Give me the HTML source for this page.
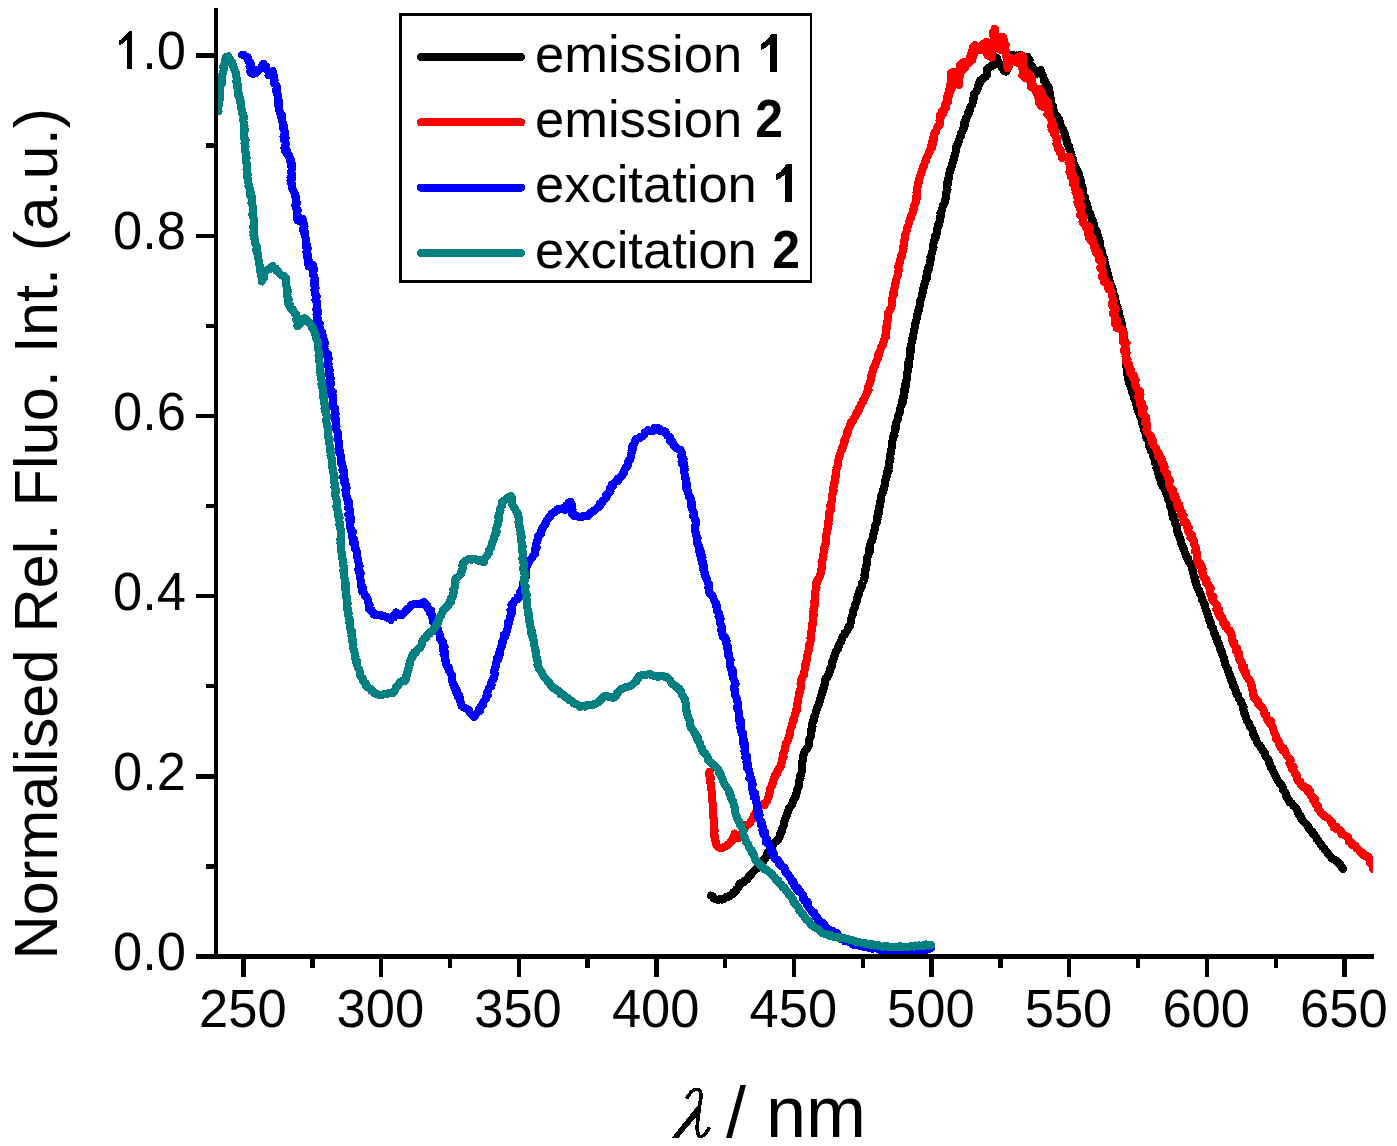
<!DOCTYPE html>
<html><head><meta charset="utf-8"><style>
html,body{margin:0;padding:0;background:#fff;}
svg{display:block;}
text{font-family:"Liberation Sans",sans-serif;}
</style></head><body>
<svg width="1397" height="1146" viewBox="0 0 1397 1146" shape-rendering="crispEdges">
<rect width="1397" height="1146" fill="#fff"/>
<defs><clipPath id="pc"><rect x="0" y="0" width="1373" height="1146"/></clipPath></defs>
<g fill="none" stroke-width="8.1" stroke-linejoin="round" stroke-linecap="round" clip-path="url(#pc)">
<polyline stroke="#000" points="710.9,895.6 712.6,896.3 713.4,898.0 714.9,899.0 716.7,899.6 718.2,899.6 720.0,899.4 721.8,899.5 723.5,899.4 725.1,897.7 727.0,896.7 729.3,896.7 730.5,895.2 732.1,894.5 732.9,892.7 734.7,892.0 735.9,890.9 736.3,889.2 737.9,888.2 738.8,886.8 738.9,884.9 739.8,883.5 741.7,883.0 743.3,882.6 744.4,881.2 745.6,880.1 747.2,879.5 747.8,877.9 749.0,876.6 750.3,875.4 751.4,874.0 752.6,872.4 754.0,871.0 755.4,869.6 757.0,868.4 758.2,866.8 759.4,865.2 761.5,864.5 762.6,862.8 763.6,861.1 764.0,859.1 765.8,857.8 766.5,856.0 766.6,854.2 767.7,852.9 768.9,851.8 769.8,850.4 770.9,849.2 771.2,847.5 772.5,846.3 773.1,844.8 773.6,843.2 775.3,842.0 776.9,840.8 778.3,839.4 779.4,837.7 780.2,836.0 780.2,834.0 781.1,832.3 782.4,830.8 782.4,829.1 782.5,827.4 783.4,826.0 784.0,824.4 784.4,822.8 784.4,821.1 784.9,819.6 785.4,818.0 786.4,816.4 786.9,814.6 787.5,812.8 788.3,811.2 788.6,809.3 789.4,807.6 791.0,806.3 792.1,804.9 792.5,803.0 793.1,801.3 793.6,799.5 794.6,798.1 795.7,796.6 796.1,794.9 796.4,793.2 797.4,791.7 797.3,789.8 798.0,788.2 798.8,786.7 798.7,784.9 798.9,783.2 799.0,781.5 799.7,779.9 800.5,778.4 799.7,776.5 801.0,775.0 801.3,773.3 801.8,771.7 801.8,770.0 802.1,768.3 802.0,766.6 802.2,765.0 802.3,763.3 802.1,761.5 803.3,760.0 803.1,758.3 802.9,756.6 803.5,755.0 803.7,753.3 804.5,751.7 805.5,750.3 806.7,748.9 807.7,747.5 808.7,746.1 808.8,744.4 808.6,742.6 809.1,741.0 809.3,739.4 810.1,737.9 810.7,736.3 810.9,734.6 811.2,733.0 811.5,731.4 811.2,729.6 812.3,728.1 812.5,726.4 812.2,724.6 812.5,723.0 812.9,721.4 814.2,719.9 814.0,718.2 814.2,716.5 815.4,715.1 815.5,713.5 815.7,711.9 816.3,710.4 817.3,709.0 817.4,707.3 818.0,705.8 819.0,704.5 819.2,702.9 819.6,701.3 820.3,699.8 820.3,698.1 821.1,696.6 821.6,694.9 821.8,693.2 822.1,691.5 823.5,690.1 823.5,688.3 823.6,686.6 824.5,685.0 825.2,683.4 824.7,681.5 825.1,679.9 826.1,678.2 827.6,676.9 827.8,674.9 829.2,673.6 829.7,671.9 830.1,670.2 830.2,668.4 831.6,667.1 831.9,665.3 832.1,663.6 832.3,661.8 833.3,660.3 833.5,658.6 834.3,657.0 834.5,655.2 835.5,653.8 835.5,652.1 836.4,650.7 837.8,649.5 838.3,647.9 838.3,646.1 839.5,644.9 839.6,643.1 840.9,641.9 841.5,640.4 841.9,638.8 842.6,637.2 843.2,635.6 844.9,634.7 844.8,632.8 846.5,631.8 847.4,630.4 847.8,628.7 848.2,627.1 849.8,626.0 850.4,624.4 850.6,622.7 850.8,621.1 851.1,619.4 851.5,617.8 851.8,616.2 852.8,614.8 853.0,613.1 853.2,611.5 853.5,609.9 854.6,608.5 854.7,606.7 855.3,605.2 855.6,603.5 856.7,602.1 857.2,600.5 856.6,598.6 857.3,597.1 857.9,595.5 859.1,594.2 859.4,592.5 859.5,590.8 859.9,589.1 861.0,587.8 861.7,586.2 862.4,584.7 862.3,582.9 863.5,581.5 863.8,579.9 864.2,578.2 865.0,576.7 864.4,574.9 865.2,573.4 864.7,571.7 865.1,570.1 866.2,568.6 865.6,566.9 866.5,565.4 866.6,563.7 867.1,562.2 866.8,560.5 867.0,558.9 867.4,557.2 868.4,555.8 868.5,554.1 869.4,552.5 869.7,550.9 869.2,549.0 870.1,547.5 870.0,545.8 870.3,544.1 870.8,542.5 872.1,541.1 872.4,539.5 872.9,537.9 872.7,536.1 873.5,534.6 874.1,533.0 874.0,531.2 874.6,529.7 874.6,527.9 874.9,526.3 875.5,524.7 876.6,523.3 876.7,521.5 877.5,520.0 877.3,518.3 877.4,516.6 878.3,515.1 878.7,513.5 878.0,511.7 879.1,510.2 878.8,508.4 879.1,506.8 880.3,505.3 879.7,503.5 880.2,501.9 881.4,500.5 881.1,498.7 881.0,497.0 881.4,495.4 881.9,493.8 882.9,492.3 882.6,490.5 883.9,489.1 883.7,487.3 884.8,485.8 885.2,484.2 884.9,482.4 885.2,480.7 885.9,479.2 885.9,477.4 886.9,475.9 886.6,474.1 887.0,472.5 888.6,471.1 888.0,469.3 888.6,467.8 888.7,466.1 888.7,464.5 888.7,462.8 889.9,461.3 890.2,459.7 890.5,458.1 889.7,456.3 890.1,454.7 890.8,453.1 891.4,451.6 891.2,449.9 891.6,448.3 891.8,446.6 891.6,444.9 892.3,443.4 892.4,441.7 892.6,440.0 892.7,438.4 893.3,436.8 894.5,435.3 894.2,433.6 894.7,432.0 895.0,430.4 895.7,428.8 895.4,427.1 895.6,425.4 896.0,423.8 896.3,422.2 897.4,420.7 898.0,419.1 897.8,417.2 898.3,415.6 899.1,414.0 899.6,412.4 900.2,410.8 900.3,409.0 900.5,407.3 901.3,405.8 901.6,404.1 902.7,402.6 902.4,400.9 902.6,399.3 903.6,397.7 903.4,396.0 904.3,394.5 904.2,392.8 904.9,391.3 904.4,389.5 905.1,388.0 905.7,386.4 905.1,384.6 906.4,383.2 905.8,381.4 906.7,379.9 907.3,378.3 907.3,376.6 907.0,374.9 907.0,373.2 907.7,371.7 908.4,370.1 907.9,368.4 908.8,366.8 908.1,365.1 909.2,363.6 908.4,361.8 908.9,360.3 909.8,358.7 909.9,357.1 910.2,355.5 910.4,353.8 910.5,352.2 910.6,350.5 910.2,348.8 910.7,347.2 910.6,345.6 911.5,344.0 911.7,342.5 911.6,340.8 911.7,339.2 913.1,337.8 913.3,336.2 913.3,334.6 913.6,333.0 914.4,331.5 914.2,329.8 914.5,328.3 914.8,326.7 915.0,325.1 915.1,323.4 916.2,322.0 916.3,320.3 916.8,318.7 916.6,317.0 917.4,315.4 917.5,313.7 917.9,312.1 918.4,310.5 919.4,309.0 919.3,307.2 919.7,305.6 920.3,304.0 920.2,302.3 920.3,300.6 921.2,299.1 921.5,297.5 922.0,295.9 922.0,294.2 922.7,292.6 923.2,291.0 923.0,289.3 923.7,287.7 924.1,286.1 924.2,284.4 924.9,282.8 925.5,281.2 926.3,279.7 926.7,278.2 926.3,276.4 927.2,274.9 926.9,273.2 927.3,271.6 928.2,270.2 929.0,268.7 928.5,266.9 929.5,265.4 930.0,263.8 929.6,262.0 930.3,260.5 930.8,258.9 930.5,257.1 931.2,255.6 931.6,254.0 931.8,252.3 932.5,250.7 933.0,249.1 933.5,247.5 933.4,245.8 933.4,244.0 933.9,242.4 934.3,240.8 935.1,239.2 935.7,237.7 935.3,235.8 936.4,234.4 936.9,232.8 936.8,231.0 937.4,229.5 937.4,227.7 938.5,226.3 938.1,224.5 939.5,223.1 939.6,221.4 939.7,219.7 939.6,218.0 940.6,216.5 941.0,214.9 940.4,213.1 941.4,211.6 941.8,210.0 942.2,208.4 942.8,206.8 943.1,205.1 944.2,203.7 944.8,202.1 944.7,200.3 945.8,198.8 945.9,197.1 945.8,195.4 946.2,193.8 946.2,192.1 947.3,190.6 947.5,189.0 946.7,187.2 947.5,185.7 947.5,184.0 947.3,182.3 947.9,180.7 948.2,179.1 949.1,177.7 948.6,175.9 949.1,174.3 949.8,172.8 949.6,171.1 950.6,169.6 951.1,168.1 951.9,166.6 951.8,164.8 952.4,163.2 953.2,161.8 953.4,160.1 954.3,158.6 954.2,156.7 955.0,155.0 955.4,153.2 955.8,151.3 956.3,149.5 956.1,147.6 956.6,146.0 957.7,144.6 958.3,143.0 958.7,141.3 959.2,139.7 959.7,138.1 960.2,136.4 961.4,135.0 961.1,133.1 962.3,131.6 962.6,129.8 963.9,128.4 964.0,126.5 964.9,125.0 963.8,122.8 965.2,121.4 966.0,119.9 966.2,118.1 967.2,116.7 967.7,115.0 968.7,113.6 968.4,111.6 969.7,110.4 970.2,108.8 970.4,107.2 971.1,105.7 972.3,104.4 972.6,102.7 972.7,101.1 973.5,99.6 973.5,97.8 973.7,96.1 973.9,94.4 975.0,93.0 976.1,91.6 977.2,90.1 977.6,88.5 977.6,86.7 979.0,85.4 978.8,83.6 980.2,82.4 980.2,80.5 981.5,79.3 983.1,79.3 984.3,77.4 985.9,76.5 986.7,75.4 987.0,73.5 987.0,71.6 986.7,69.7 987.9,68.1 989.7,67.0 991.3,65.9 993.5,65.7 994.0,63.8 995.1,62.5 996.2,61.3 996.7,59.7 997.1,58.1 997.3,59.9 998.2,61.5 998.8,63.2 999.9,64.7 1001.3,66.0 1001.9,67.7 1002.9,69.2 1004.1,70.8 1005.8,71.6 1007.4,69.9 1007.9,68.3 1008.6,66.8 1008.9,65.1 1009.1,63.4 1009.6,61.8 1011.2,60.5 1012.3,58.9 1012.5,56.9 1012.6,54.8 1014.8,56.0 1016.6,55.5 1018.3,55.7 1020.1,55.1 1021.8,56.3 1023.5,57.0 1025.4,56.7 1027.2,56.8 1027.7,58.7 1029.6,59.7 1029.4,61.6 1029.4,63.5 1030.6,64.8 1031.9,66.0 1032.1,67.8 1033.0,69.2 1034.9,70.0 1036.3,71.4 1036.7,73.6 1039.0,71.7 1040.8,70.3 1041.2,73.1 1042.4,74.7 1043.3,76.4 1043.6,78.3 1043.8,80.2 1045.6,81.2 1045.5,83.1 1046.2,84.6 1046.9,86.1 1048.6,87.0 1048.3,88.9 1049.4,90.4 1049.1,92.2 1050.2,93.7 1049.3,95.6 1049.5,97.3 1050.8,98.7 1051.4,100.3 1050.2,102.2 1051.0,103.7 1051.1,105.3 1053.0,106.6 1051.6,108.6 1052.5,110.0 1053.9,111.2 1054.5,112.8 1054.8,114.5 1055.6,115.9 1057.5,116.7 1057.6,118.6 1059.2,119.5 1058.6,121.8 1060.4,122.6 1060.1,124.6 1061.0,126.1 1061.8,127.6 1063.0,129.0 1063.1,130.8 1064.1,132.2 1064.7,133.8 1064.6,135.7 1065.6,137.1 1065.7,138.9 1066.9,140.3 1066.8,142.0 1067.3,143.6 1068.3,145.0 1069.0,146.5 1069.1,148.1 1069.5,149.7 1070.5,151.1 1070.8,152.7 1071.5,154.2 1071.3,156.0 1071.5,157.6 1072.7,158.9 1073.4,160.4 1073.3,162.2 1073.8,163.8 1074.3,165.4 1075.3,166.7 1076.2,168.1 1076.3,169.9 1077.7,171.1 1077.7,172.8 1079.0,174.1 1079.3,175.8 1079.6,177.4 1080.1,178.9 1080.8,180.4 1081.1,182.0 1080.8,183.7 1081.6,185.2 1081.9,186.8 1082.7,188.2 1082.5,189.9 1083.3,191.4 1083.4,193.0 1083.4,194.7 1083.7,196.2 1085.3,197.5 1084.9,199.3 1085.3,200.9 1086.4,202.3 1086.9,203.8 1087.1,205.5 1087.2,207.1 1088.3,208.5 1088.2,210.2 1088.8,211.7 1090.0,213.1 1089.6,214.9 1091.2,216.1 1091.6,217.8 1091.6,219.6 1092.8,221.0 1093.1,222.7 1093.9,224.2 1094.1,226.0 1094.3,227.8 1094.8,229.4 1096.4,230.7 1096.9,232.3 1096.6,234.2 1098.0,235.6 1098.2,237.2 1098.8,238.8 1099.3,240.4 1099.8,242.0 1099.6,243.8 1099.9,245.4 1100.4,247.0 1100.7,248.7 1101.4,250.2 1102.1,251.8 1102.2,253.4 1102.2,255.0 1103.0,256.5 1103.9,257.9 1104.5,259.4 1103.8,261.3 1104.6,262.7 1105.3,264.2 1105.4,265.8 1105.9,267.4 1106.3,268.9 1107.2,270.3 1107.3,272.0 1107.7,273.5 1108.4,275.0 1108.1,276.8 1109.1,278.2 1109.3,279.9 1109.8,281.4 1110.2,283.0 1110.7,284.6 1111.2,286.1 1112.2,287.5 1111.9,289.3 1113.3,290.6 1112.9,292.4 1113.4,294.0 1113.8,295.5 1115.1,296.8 1115.4,298.4 1115.0,300.2 1115.8,301.6 1116.3,303.1 1116.0,304.9 1117.5,306.1 1117.3,307.8 1117.8,309.4 1118.5,310.8 1118.6,312.5 1118.6,314.1 1118.8,315.7 1120.2,317.0 1120.0,318.8 1120.9,320.2 1120.5,322.0 1121.7,323.3 1122.1,324.9 1122.1,326.5 1122.1,328.2 1122.9,329.6 1123.5,331.1 1123.2,332.9 1123.4,334.5 1123.5,336.2 1124.4,337.8 1124.5,339.5 1124.9,341.2 1124.7,342.9 1125.2,344.6 1125.4,346.2 1125.1,348.0 1125.1,349.7 1125.8,351.3 1126.6,352.9 1126.0,354.6 1126.3,356.3 1125.8,357.9 1126.2,359.5 1126.1,361.2 1126.4,362.8 1126.7,364.4 1126.3,366.1 1126.5,367.7 1127.2,369.3 1127.5,370.9 1127.3,372.5 1127.2,374.2 1127.8,375.8 1128.0,377.3 1128.2,379.0 1129.2,380.4 1128.8,382.3 1129.5,383.8 1130.4,385.3 1130.9,386.8 1131.3,388.4 1131.8,390.0 1131.9,391.7 1132.7,393.2 1133.2,394.8 1134.2,396.2 1133.9,398.1 1135.1,399.5 1135.6,401.0 1136.5,402.5 1136.0,404.5 1137.1,405.8 1137.1,407.6 1137.6,409.2 1138.1,410.8 1138.9,412.3 1139.3,413.9 1139.8,415.5 1140.4,417.0 1141.7,418.3 1141.7,420.1 1142.1,421.7 1142.1,423.4 1142.8,424.9 1143.3,426.4 1143.8,428.0 1144.7,429.5 1144.5,431.3 1145.3,432.7 1146.0,434.2 1146.4,435.8 1146.3,437.6 1147.3,439.0 1148.2,440.5 1148.7,442.0 1148.6,443.7 1149.2,445.2 1149.4,446.8 1150.7,448.1 1150.9,449.7 1151.1,451.3 1152.4,452.6 1152.8,454.1 1152.8,455.8 1153.6,457.2 1154.3,458.7 1154.7,460.3 1154.7,461.9 1155.4,463.4 1156.4,464.8 1156.9,466.4 1156.5,468.2 1157.2,469.7 1158.2,471.1 1157.9,472.9 1159.4,474.2 1159.5,475.8 1159.4,477.6 1160.1,479.1 1161.1,480.5 1160.9,482.3 1161.7,483.7 1162.2,485.5 1163.0,487.1 1164.2,488.4 1164.8,490.1 1165.7,491.6 1166.0,493.4 1167.0,494.9 1167.9,496.4 1168.1,498.0 1168.3,499.6 1169.6,500.9 1170.0,502.5 1169.8,504.2 1170.1,505.7 1170.8,507.2 1171.3,508.8 1171.7,510.3 1171.6,512.0 1172.1,513.6 1172.7,515.1 1173.7,516.5 1173.3,518.3 1174.2,519.7 1175.0,521.2 1175.4,522.7 1175.4,524.4 1176.7,525.7 1177.0,527.3 1177.3,529.0 1177.1,530.7 1177.8,532.2 1178.0,533.9 1179.0,535.3 1179.4,536.8 1180.0,538.3 1180.5,539.8 1181.0,541.4 1181.2,543.0 1181.5,544.6 1182.7,545.9 1182.9,547.5 1183.8,548.9 1184.3,550.4 1184.6,552.0 1185.3,553.6 1186.1,555.1 1186.4,556.8 1188.0,557.9 1188.3,559.7 1188.6,561.4 1189.7,562.8 1190.6,564.2 1191.6,565.6 1192.3,567.1 1192.1,568.9 1192.5,570.4 1193.2,571.9 1193.3,573.6 1193.6,575.1 1194.1,576.7 1195.0,578.1 1195.3,579.7 1195.3,581.3 1196.2,582.8 1196.1,584.4 1196.8,585.9 1197.4,587.5 1197.9,589.0 1198.9,590.3 1199.3,591.9 1199.8,593.4 1200.9,594.6 1201.4,596.2 1201.9,597.7 1201.9,599.5 1202.8,600.8 1203.8,602.1 1203.6,604.0 1205.1,605.1 1205.3,606.8 1205.5,608.4 1206.0,609.9 1206.8,611.4 1206.9,613.1 1207.7,614.5 1207.9,616.2 1208.7,617.6 1208.6,619.4 1209.4,620.8 1210.6,622.1 1211.0,623.7 1210.6,625.6 1212.0,626.8 1212.9,628.1 1213.3,629.7 1213.7,631.3 1213.8,633.0 1215.0,634.3 1215.3,635.9 1215.8,637.4 1217.3,638.6 1217.3,640.3 1217.5,642.0 1218.6,643.2 1219.1,644.7 1219.8,646.2 1219.6,647.9 1220.1,649.5 1221.6,650.7 1221.5,652.4 1222.2,653.9 1222.4,655.5 1223.5,656.8 1223.8,658.4 1224.3,659.9 1224.6,661.6 1224.9,663.3 1225.4,665.0 1226.1,666.6 1226.8,668.1 1228.1,669.5 1228.3,671.2 1228.6,673.0 1229.6,674.4 1230.0,676.1 1230.2,677.9 1231.7,679.1 1231.4,681.1 1232.9,682.3 1233.2,684.1 1233.2,685.9 1234.6,687.2 1234.9,688.9 1235.6,690.5 1235.7,692.3 1236.3,693.9 1237.8,695.0 1238.4,696.6 1238.7,698.4 1239.8,699.7 1240.9,701.0 1241.1,702.8 1242.3,704.1 1242.6,705.8 1243.6,707.1 1242.9,709.0 1243.7,710.5 1243.8,712.1 1244.2,713.7 1245.5,715.0 1245.6,716.7 1246.2,718.2 1246.6,719.9 1247.2,721.4 1248.6,722.6 1249.3,724.1 1249.6,725.9 1250.7,727.2 1251.7,728.6 1252.4,730.1 1252.7,731.8 1253.2,733.3 1253.5,735.0 1254.6,736.3 1255.1,737.9 1256.2,739.1 1256.6,740.8 1257.3,742.2 1257.9,743.9 1259.4,745.0 1260.4,746.4 1261.3,748.0 1262.2,749.5 1263.3,750.8 1264.1,752.5 1265.3,753.7 1265.3,755.6 1266.2,757.0 1267.2,758.4 1268.4,759.7 1268.9,761.3 1269.2,763.0 1270.0,764.5 1270.5,766.1 1271.0,767.6 1272.3,768.9 1272.7,770.4 1273.5,771.9 1274.4,773.3 1275.0,774.8 1275.5,776.4 1276.6,777.6 1277.2,779.4 1278.0,780.9 1279.1,782.3 1280.0,783.8 1281.5,784.9 1282.5,786.3 1282.8,788.0 1283.1,789.7 1284.2,791.0 1285.3,792.3 1285.9,793.8 1286.2,795.5 1286.5,797.1 1287.8,798.4 1288.6,799.6 1289.3,801.2 1290.1,802.7 1291.8,803.5 1292.6,804.9 1293.8,806.1 1295.3,807.0 1296.2,808.5 1297.2,809.9 1297.9,811.5 1298.2,813.3 1299.1,814.7 1300.5,815.8 1301.3,817.4 1301.5,819.2 1302.9,820.4 1303.7,821.7 1304.8,822.9 1306.1,824.0 1307.2,825.3 1308.1,826.6 1309.0,828.1 1309.5,829.8 1310.9,830.8 1312.2,831.8 1312.8,833.5 1314.2,834.5 1315.0,836.0 1316.2,837.2 1316.6,839.0 1318.1,839.9 1318.7,841.6 1319.9,842.8 1320.7,844.3 1321.9,845.4 1322.6,847.0 1324.2,848.1 1325.0,849.7 1326.1,851.1 1327.3,852.5 1328.3,854.0 1329.4,855.4 1330.6,856.7 1331.7,858.2 1333.4,859.0 1335.0,860.0 1336.8,860.6 1337.6,862.3 1339.0,863.2 1340.1,864.5 1341.1,865.9 1342.0,867.5 1343.0,869.0"/>
<polyline stroke="#f00" points="709.5,772.0 709.1,773.7 709.3,775.3 710.6,776.8 710.7,778.5 710.0,780.2 710.3,781.8 710.6,783.4 711.2,785.0 711.0,786.7 711.2,788.3 711.3,790.0 712.0,791.6 711.8,793.3 712.0,795.0 711.7,796.7 711.6,798.4 711.8,800.0 712.4,801.6 712.6,803.2 712.9,804.8 713.3,806.4 713.4,808.0 713.0,809.6 713.3,811.2 713.3,812.9 712.8,814.5 713.3,816.1 713.4,817.7 713.9,819.3 714.3,820.9 714.0,822.5 714.4,824.2 714.1,825.9 713.6,827.6 714.1,829.2 714.8,830.8 714.1,832.5 714.4,834.2 714.6,835.8 714.5,837.5 714.8,839.1 715.3,840.9 716.4,842.4 716.2,844.3 716.8,846.0 718.3,847.4 720.0,847.8 722.0,847.8 724.1,846.8 726.3,846.1 727.7,844.7 729.5,843.7 730.5,841.9 732.2,840.8 732.4,838.7 733.7,837.2 734.4,835.4 734.7,833.5 735.9,835.1 736.8,836.8 738.3,838.2 739.7,836.7 740.6,835.1 741.8,833.9 742.9,832.6 742.9,830.9 744.4,829.7 744.3,828.0 745.6,826.8 745.6,825.0 748.1,824.5 750.1,823.2 750.8,821.6 751.7,820.1 752.6,818.8 753.4,817.3 753.9,815.7 754.6,814.2 755.7,812.8 757.0,811.4 757.5,809.6 757.7,807.6 759.3,806.4 760.0,804.7 761.4,805.1 763.1,804.2 764.7,804.9 765.2,802.7 766.9,801.4 767.5,799.6 767.8,797.9 769.0,796.3 768.6,794.4 769.5,792.7 770.3,791.1 770.1,789.2 770.5,787.4 771.8,786.1 771.9,784.4 772.8,783.0 772.7,781.2 773.6,779.8 774.0,778.2 775.2,776.9 775.1,775.1 776.9,774.2 776.7,772.2 778.2,771.2 778.2,769.4 779.3,768.2 780.6,767.1 780.7,765.3 781.1,763.7 782.1,762.2 782.1,760.5 782.1,758.7 783.6,757.3 783.0,755.4 783.3,753.7 784.0,752.1 784.8,750.6 785.3,748.9 784.9,747.1 785.7,745.4 785.9,743.6 786.9,742.0 787.8,740.3 788.3,738.6 789.0,736.9 789.4,735.1 790.0,733.6 790.2,732.0 790.4,730.4 790.6,728.8 791.5,727.4 791.6,725.7 791.8,724.1 792.6,722.7 793.7,721.1 793.3,719.1 794.4,717.5 794.7,715.7 795.4,714.0 795.5,712.1 796.9,710.7 796.5,708.7 797.2,707.0 797.4,705.3 797.3,703.4 798.3,701.8 798.1,700.0 798.4,698.2 798.6,696.6 798.9,694.9 799.1,693.2 799.9,691.7 800.0,690.0 800.8,688.4 800.9,686.7 801.2,685.1 800.5,683.3 801.0,681.7 801.0,680.0 802.1,678.4 802.8,676.8 803.7,675.3 804.2,673.6 804.0,671.8 804.6,670.2 805.0,668.6 804.7,666.9 805.1,665.3 805.9,663.7 805.8,662.1 806.9,660.6 806.7,658.8 806.8,657.2 807.2,655.6 807.6,654.0 807.9,652.4 808.6,650.8 808.8,649.2 808.9,647.5 809.5,646.0 809.2,644.3 810.3,642.8 810.6,641.2 810.6,639.5 810.5,637.8 810.8,636.2 811.1,634.6 810.7,632.9 811.4,631.3 811.8,629.7 811.6,628.0 811.7,626.4 812.7,624.9 812.3,623.2 812.7,621.6 813.3,620.0 813.1,618.4 812.9,616.7 813.9,615.2 813.3,613.5 813.1,611.8 814.0,610.3 813.5,608.6 813.9,607.0 814.7,605.4 814.7,603.8 814.0,602.1 814.7,600.5 814.8,598.9 815.1,597.3 814.9,595.6 815.5,594.1 815.0,592.4 815.5,590.8 815.7,589.2 816.5,587.6 815.7,585.9 816.6,584.4 816.1,582.7 817.3,581.2 817.9,579.6 818.8,578.1 819.8,576.8 820.2,575.1 820.7,573.4 820.8,571.9 820.9,570.2 821.9,568.5 821.8,566.8 822.3,565.1 822.2,563.4 821.5,561.7 822.4,560.0 823.0,558.3 823.5,556.6 823.4,554.9 823.5,553.2 823.9,551.6 824.5,550.0 824.2,548.3 824.7,546.7 824.9,545.1 825.7,543.6 825.8,541.9 826.2,540.3 826.3,538.7 825.9,536.9 826.1,535.3 826.6,533.7 826.6,532.1 827.1,530.5 827.6,528.9 828.1,527.3 828.0,525.6 828.5,524.0 827.9,522.3 828.4,520.7 829.4,519.2 828.6,517.4 829.2,515.8 829.0,514.1 829.3,512.5 830.5,511.0 830.8,509.4 830.7,507.7 830.3,506.0 830.8,504.4 830.9,502.8 831.7,501.2 831.9,499.6 831.9,497.9 832.3,496.3 832.0,494.6 832.8,493.0 833.5,491.4 833.5,489.8 833.0,488.0 833.7,486.5 834.2,484.9 833.9,483.2 835.0,481.7 834.7,480.0 835.3,478.5 835.2,476.9 836.2,475.4 836.3,473.8 836.3,472.2 836.1,470.5 836.7,469.0 836.5,467.3 837.5,465.9 838.1,464.4 837.6,462.6 838.2,461.1 838.5,459.5 838.7,458.0 839.3,456.4 840.1,455.0 840.4,453.4 840.7,451.7 841.8,450.4 841.7,448.6 842.7,447.2 843.2,445.6 843.8,444.1 844.5,442.6 844.3,440.7 845.3,439.3 845.6,437.6 846.5,436.1 847.4,434.6 847.5,432.8 847.4,430.9 848.4,429.5 849.3,427.9 850.0,426.4 850.3,424.7 851.3,423.3 851.3,421.4 853.1,420.5 853.7,418.9 854.5,417.3 855.6,416.0 856.4,414.5 856.5,412.6 858.1,411.6 858.9,410.1 859.1,408.2 860.4,406.9 861.0,405.3 861.4,403.5 862.8,402.3 862.9,400.4 864.2,399.1 864.8,397.4 865.4,395.8 866.5,394.4 867.2,392.8 867.3,391.1 868.6,389.7 867.9,387.8 868.3,386.2 869.2,384.7 870.0,383.1 870.2,381.5 870.8,379.9 870.9,378.2 871.5,376.6 871.5,374.9 871.8,373.2 872.7,371.7 872.7,370.0 873.3,368.5 874.6,367.2 874.5,365.4 875.7,364.1 876.3,362.5 876.4,360.8 877.3,359.4 878.0,357.9 878.6,356.3 878.4,354.5 878.9,353.0 879.8,351.6 880.4,350.2 880.8,348.6 881.0,346.9 882.2,345.7 883.2,344.3 883.1,342.6 883.9,341.1 884.2,339.6 884.9,338.1 885.9,336.8 885.5,334.9 886.1,333.3 886.1,331.5 886.3,329.9 887.0,328.2 886.1,326.4 887.2,324.9 886.8,323.1 887.4,321.5 887.8,319.8 887.8,318.1 887.7,316.4 888.4,314.7 888.1,313.0 889.3,311.7 889.7,310.0 890.4,308.6 891.4,307.2 891.7,305.4 891.8,303.8 891.7,302.1 891.9,300.5 892.4,298.9 892.5,297.2 892.8,295.6 893.9,294.1 893.2,292.3 894.4,290.9 894.3,289.2 894.6,287.6 894.9,286.0 895.0,284.3 895.8,282.8 895.8,281.1 896.4,279.6 896.6,277.9 897.6,276.4 897.9,274.8 897.6,273.1 898.2,271.5 898.8,269.9 898.4,268.1 898.4,266.4 898.9,264.8 899.2,263.2 900.2,261.7 900.3,260.0 900.7,258.3 901.6,256.8 901.4,255.0 902.4,253.6 902.6,251.9 902.8,250.2 903.5,248.6 903.1,246.9 904.0,245.4 904.2,243.8 903.9,242.1 904.3,240.5 904.8,238.9 904.8,237.3 905.0,235.6 905.7,234.1 906.3,232.5 906.6,230.7 907.4,229.2 907.2,227.3 908.1,225.7 908.7,224.1 908.9,222.3 909.5,220.7 909.8,219.0 911.3,217.6 911.1,215.7 911.8,214.1 912.8,212.6 912.6,210.7 914.0,209.4 913.6,207.4 914.1,205.7 915.0,204.2 915.5,202.5 916.4,201.0 916.5,199.4 916.6,197.7 916.4,196.0 916.7,194.4 916.5,192.7 917.4,191.1 917.1,189.4 917.2,187.7 917.8,186.1 917.6,184.4 918.3,182.8 919.4,181.4 918.9,179.6 919.4,178.0 920.0,176.4 920.5,174.8 921.1,173.3 921.5,171.6 922.2,170.0 922.6,168.4 923.2,166.8 924.2,165.3 924.5,163.6 925.1,162.0 926.1,160.6 926.0,158.7 926.8,157.1 928.2,155.8 928.5,154.0 929.5,152.6 929.5,150.7 930.7,149.2 932.1,148.0 931.2,145.9 932.7,144.5 932.6,142.9 932.4,141.1 934.3,139.9 933.1,137.9 933.6,136.4 934.3,134.9 934.2,133.0 936.1,132.0 936.2,130.2 936.8,128.6 937.4,127.0 939.1,125.9 939.8,124.3 939.9,122.5 939.5,120.7 939.8,119.1 940.6,117.6 939.9,115.7 940.5,114.2 943.2,113.4 941.9,111.0 944.6,110.4 944.8,108.5 946.2,107.3 945.0,104.7 946.1,103.4 947.9,102.3 946.6,100.0 947.4,98.4 948.6,97.1 948.4,95.3 948.7,93.6 950.3,92.1 949.1,90.1 951.6,88.8 951.1,86.9 949.8,84.9 952.2,83.5 950.6,81.6 951.4,80.0 951.7,78.3 950.8,76.5 951.9,74.8 950.9,73.0 955.0,72.2 954.5,75.1 955.3,76.7 956.7,78.2 956.8,80.1 956.9,81.9 959.3,83.1 959.0,85.1 958.1,83.4 958.2,81.7 958.2,80.0 958.6,78.4 958.3,76.7 958.8,75.1 959.3,73.4 960.0,71.8 960.7,70.1 960.9,68.5 960.5,66.8 960.0,65.1 962.0,65.3 962.6,62.8 964.0,61.9 966.4,62.8 968.1,61.4 969.7,59.4 970.1,58.4 970.2,56.7 970.9,55.2 971.3,53.6 971.6,51.9 973.0,50.5 973.4,48.9 973.2,47.1 974.7,47.4 976.4,47.2 977.9,48.8 978.9,50.2 981.5,49.5 982.4,49.0 983.1,47.6 983.9,46.1 983.2,43.9 985.2,43.2 986.3,44.6 986.7,46.3 986.2,48.3 986.4,50.0 986.9,51.8 987.1,53.5 987.6,55.2 989.6,56.6 991.9,57.3 992.0,56.6 992.3,55.0 992.5,53.3 992.0,51.7 990.7,49.9 991.3,48.3 991.3,46.7 992.8,45.2 992.7,43.6 992.0,41.8 994.1,40.4 994.3,38.8 994.3,37.2 993.3,35.5 993.1,33.8 993.0,32.2 994.8,30.7 994.6,29.1 994.9,30.5 993.5,32.3 994.5,33.9 995.1,35.4 995.3,37.0 994.7,38.7 995.6,40.3 995.3,41.9 996.9,43.4 995.6,45.2 996.8,43.3 999.3,42.9 999.1,40.4 1000.6,39.1 1002.2,38.1 1003.1,39.7 1003.5,41.6 1003.3,43.8 1005.8,44.8 1004.5,46.8 1004.9,48.4 1004.8,50.1 1005.8,51.7 1005.9,53.3 1006.4,54.9 1006.2,56.6 1006.9,58.2 1007.2,59.8 1006.6,61.5 1007.5,63.1 1006.9,64.8 1006.8,66.5 1007.6,68.1 1006.9,66.2 1008.6,65.0 1009.8,63.6 1008.8,61.4 1010.4,60.2 1011.9,60.2 1013.7,60.4 1015.3,59.6 1016.8,57.9 1018.4,56.9 1020.8,57.7 1022.0,55.6 1023.6,57.8 1021.4,59.6 1023.3,61.2 1023.0,63.0 1023.1,64.7 1023.4,66.4 1022.3,68.2 1023.3,69.9 1023.2,71.6 1023.3,73.4 1022.3,75.1 1025.2,73.8 1027.2,75.3 1028.7,76.2 1029.3,77.8 1028.8,79.7 1030.0,81.0 1031.4,82.2 1030.7,84.3 1030.6,86.1 1031.9,87.3 1033.6,88.0 1034.6,89.5 1035.9,90.5 1038.2,89.6 1039.5,90.7 1038.1,93.0 1038.4,94.7 1040.4,96.3 1039.2,98.1 1038.9,99.9 1039.7,101.5 1039.4,103.3 1042.2,102.6 1043.9,100.9 1045.9,100.2 1048.2,102.6 1046.4,104.9 1048.7,106.3 1047.3,108.5 1048.6,110.1 1048.9,112.0 1047.4,114.3 1050.0,115.6 1050.2,117.6 1051.0,119.1 1052.1,120.5 1052.5,122.1 1051.8,124.1 1051.3,126.0 1054.4,126.8 1051.7,129.3 1053.2,130.7 1055.9,131.6 1054.0,133.9 1055.6,135.2 1055.6,136.9 1057.6,138.2 1056.5,140.2 1056.9,141.8 1056.4,143.7 1057.6,145.2 1057.6,146.9 1057.9,148.6 1060.3,149.7 1061.4,151.1 1060.2,153.2 1062.0,154.5 1062.4,156.1 1062.2,157.9 1063.1,157.6 1064.8,157.3 1066.4,156.7 1068.4,157.2 1069.6,156.9 1068.3,158.9 1070.4,160.1 1068.6,162.2 1069.8,163.6 1071.2,165.0 1070.9,166.7 1070.0,168.6 1071.0,170.1 1069.6,172.0 1072.1,173.2 1072.7,174.7 1071.0,176.9 1072.7,178.1 1075.0,179.1 1073.0,181.4 1075.0,182.5 1073.4,184.7 1075.0,185.9 1074.9,187.6 1075.0,189.3 1076.9,190.4 1075.7,192.5 1079.6,193.0 1078.8,195.0 1077.2,197.0 1080.6,198.1 1078.3,200.1 1077.4,202.0 1078.7,203.4 1078.4,205.1 1081.7,206.3 1080.2,208.2 1080.2,209.9 1081.1,211.4 1081.5,213.0 1080.3,214.9 1083.0,216.1 1084.0,217.1 1083.0,219.6 1082.5,221.9 1083.8,223.2 1085.1,224.5 1087.2,225.5 1085.9,228.1 1089.7,228.2 1089.5,230.3 1088.0,232.5 1088.0,234.2 1090.3,235.3 1088.9,237.5 1092.3,238.3 1090.9,240.4 1093.3,241.4 1093.2,243.2 1093.8,244.8 1094.9,246.2 1094.3,247.9 1094.8,249.5 1096.3,250.5 1096.0,252.6 1098.8,252.9 1098.1,255.2 1098.9,256.6 1100.2,257.8 1099.3,260.2 1102.4,260.8 1101.5,262.6 1101.7,264.3 1102.3,265.8 1100.3,267.8 1102.1,269.2 1102.5,270.8 1103.1,272.4 1103.4,274.0 1101.7,276.0 1102.6,277.5 1103.4,279.0 1105.5,280.4 1104.1,282.3 1106.6,282.5 1107.1,284.3 1109.1,284.8 1108.2,287.7 1108.5,289.6 1110.5,290.0 1110.9,291.3 1112.4,292.7 1111.9,294.4 1112.1,296.0 1112.5,297.6 1113.3,299.1 1113.8,300.6 1112.1,302.5 1111.6,304.2 1112.3,305.7 1113.3,307.2 1115.8,308.4 1115.1,310.2 1113.3,312.1 1113.1,313.7 1114.9,315.1 1115.1,316.7 1114.9,318.3 1116.8,319.6 1115.4,321.5 1116.9,322.9 1115.4,324.7 1117.1,326.1 1116.6,327.8 1118.7,328.5 1120.3,329.1 1122.0,329.5 1122.8,331.9 1122.7,332.1 1124.2,333.6 1124.0,335.2 1122.8,337.1 1123.5,338.6 1124.1,340.2 1123.1,342.0 1126.5,343.3 1124.8,345.1 1124.9,346.8 1125.8,348.4 1124.0,350.2 1124.2,351.9 1126.6,353.3 1125.9,355.0 1125.5,356.7 1126.0,358.4 1127.4,359.9 1126.0,361.7 1127.9,363.1 1129.3,364.1 1128.3,366.5 1129.1,368.0 1130.7,369.1 1131.1,370.8 1130.2,373.1 1131.6,374.4 1133.7,375.2 1132.7,377.6 1134.7,378.5 1135.7,380.0 1135.2,381.8 1135.1,383.6 1135.0,385.4 1136.3,386.8 1136.7,388.5 1138.1,389.9 1139.8,391.3 1138.7,393.3 1140.4,394.7 1137.8,397.2 1140.3,398.3 1139.8,400.2 1139.8,402.0 1142.3,403.2 1140.3,405.5 1142.5,406.7 1143.8,408.1 1142.2,410.2 1143.3,411.6 1141.8,413.7 1143.9,414.9 1145.6,416.3 1146.2,417.8 1146.5,419.5 1145.2,421.5 1145.0,423.2 1147.0,424.5 1146.7,426.3 1146.7,428.0 1146.3,429.9 1146.7,431.4 1147.6,432.8 1148.8,434.0 1149.6,435.5 1151.1,436.6 1150.8,438.4 1152.5,439.5 1152.8,441.1 1152.1,443.1 1153.4,444.3 1153.7,445.9 1155.0,447.2 1156.2,448.5 1156.5,450.3 1157.1,451.9 1158.6,453.0 1158.0,455.2 1158.4,456.9 1161.0,457.5 1161.6,459.1 1161.1,461.3 1161.8,462.7 1163.6,463.9 1163.3,465.8 1164.7,467.1 1163.8,469.3 1165.0,470.6 1165.8,472.2 1167.2,473.5 1167.2,475.3 1167.6,477.0 1168.4,478.5 1169.4,479.9 1169.9,481.4 1169.1,483.3 1169.1,485.0 1169.8,486.5 1170.9,487.8 1171.0,489.5 1173.1,490.5 1173.4,492.0 1172.7,494.0 1175.0,494.8 1175.5,496.3 1174.4,498.5 1176.5,499.4 1177.1,500.9 1177.2,502.5 1176.8,504.5 1179.4,505.1 1178.0,507.5 1180.0,508.3 1180.0,510.1 1180.9,511.5 1182.3,512.6 1181.0,515.0 1183.5,515.7 1182.6,517.9 1183.0,519.5 1184.7,520.6 1184.1,522.6 1186.9,523.2 1187.3,524.8 1187.1,526.7 1188.8,527.8 1187.6,530.0 1188.9,531.3 1188.9,533.1 1190.8,534.1 1192.0,535.3 1190.6,537.7 1192.8,538.6 1193.0,540.3 1194.3,541.5 1193.6,543.5 1194.3,545.0 1195.3,546.4 1196.1,547.9 1195.8,549.6 1195.0,551.4 1197.0,552.6 1197.2,554.2 1196.6,556.0 1197.0,557.6 1196.9,559.3 1197.7,560.7 1197.6,562.4 1200.0,563.3 1198.8,565.6 1201.5,566.1 1201.9,567.7 1202.6,569.2 1201.6,571.3 1202.9,572.5 1202.6,574.4 1203.1,576.0 1203.8,577.4 1205.2,578.5 1206.5,579.7 1205.6,581.9 1206.7,583.2 1208.6,584.3 1208.3,586.2 1210.2,587.2 1210.8,588.8 1209.9,590.9 1210.2,592.5 1210.5,594.2 1211.3,595.7 1213.4,596.7 1212.5,598.8 1212.5,600.5 1213.9,601.8 1215.0,603.0 1216.1,604.3 1217.3,605.6 1216.6,607.6 1216.4,609.4 1219.1,610.0 1218.0,612.2 1218.4,613.8 1220.4,614.7 1219.8,616.7 1222.1,617.4 1222.6,618.9 1222.8,620.7 1223.0,622.5 1224.6,623.5 1226.4,624.3 1225.4,626.8 1227.1,627.8 1227.4,629.5 1229.5,630.1 1229.9,631.9 1231.1,633.1 1231.5,634.7 1231.6,636.5 1232.3,638.0 1232.3,639.8 1232.5,641.5 1234.3,642.5 1233.5,644.6 1234.8,645.9 1236.1,647.2 1237.1,648.6 1235.7,650.9 1237.0,652.2 1239.0,653.3 1238.0,655.4 1239.3,656.7 1239.7,658.3 1239.4,660.2 1241.4,661.2 1241.9,662.8 1241.9,664.5 1241.6,666.4 1244.2,667.1 1243.0,669.3 1243.9,670.7 1245.9,671.7 1245.4,673.6 1246.2,675.0 1246.8,676.6 1247.9,677.8 1249.1,679.0 1249.4,680.7 1250.7,681.8 1250.6,683.7 1251.1,685.3 1252.3,686.7 1252.4,688.4 1252.5,690.1 1252.8,691.7 1252.7,693.4 1252.7,695.1 1254.3,696.4 1254.0,698.2 1255.6,699.1 1257.0,700.1 1258.4,701.1 1258.1,703.9 1259.4,705.0 1260.1,706.2 1262.3,707.2 1263.0,708.9 1263.8,710.5 1264.0,712.3 1264.4,714.1 1266.2,714.8 1266.4,716.7 1266.8,718.5 1267.5,720.1 1269.8,720.4 1271.2,721.4 1270.0,724.2 1271.6,725.6 1272.4,727.2 1273.3,728.8 1273.6,730.7 1274.2,732.4 1274.8,734.1 1275.7,735.4 1275.9,737.2 1276.1,739.0 1278.1,739.8 1278.7,741.3 1279.4,742.8 1279.4,744.8 1280.5,746.1 1280.9,747.8 1283.5,748.2 1283.0,750.5 1285.0,751.2 1285.3,753.1 1286.2,754.4 1287.0,756.2 1288.4,757.5 1289.8,758.9 1290.8,760.5 1289.5,763.2 1290.4,764.8 1292.0,765.9 1293.5,767.0 1292.4,769.3 1293.8,770.5 1294.5,771.9 1294.7,773.6 1296.5,774.6 1297.0,776.2 1296.6,778.3 1297.8,779.5 1298.3,781.3 1300.4,781.7 1300.3,783.9 1301.5,785.1 1303.5,785.7 1304.0,787.6 1306.6,787.5 1308.0,788.5 1307.8,791.1 1310.1,791.5 1310.1,793.4 1310.4,795.1 1311.4,796.5 1313.3,797.3 1312.9,799.5 1315.4,800.0 1315.1,802.1 1315.2,804.0 1316.9,804.9 1318.3,806.1 1317.6,808.4 1319.0,809.5 1319.8,811.0 1320.9,812.6 1322.1,814.0 1324.1,814.7 1324.9,816.5 1326.7,817.3 1328.5,818.2 1329.5,819.6 1330.6,820.9 1332.2,821.9 1332.1,824.2 1333.6,825.2 1333.7,827.4 1336.5,826.9 1336.5,829.4 1338.8,829.2 1339.8,830.5 1341.1,831.5 1341.2,833.9 1343.0,834.6 1344.7,835.5 1346.5,836.3 1348.0,837.4 1348.7,839.3 1348.7,841.6 1350.8,842.0 1351.5,843.7 1352.1,845.3 1354.9,845.2 1355.7,846.9 1356.8,848.3 1358.5,849.2 1359.5,850.8 1360.3,852.6 1362.6,852.8 1363.1,854.8 1365.1,854.9 1366.0,856.5 1368.1,856.4 1368.6,858.6 1369.9,859.4 1369.7,861.4 1370.2,863.0 1371.8,864.1 1373.9,864.9 1373.8,866.8 1373.1,869.1 1375.0,870.0"/>
<polygon fill="#f00" stroke="none" points="943.0,97.0 946.1,87.8 947.3,82.9 948.2,76.8 949.2,71.3 950.4,68.9 952.5,68.0 954.7,68.3 956.5,70.1 957.4,67.0 958.3,62.2 959.2,60.9 963.8,60.9 964.4,59.1 966.3,57.9 969.0,57.3 969.3,55.1 970.2,49.9 971.2,44.4 972.1,42.0 974.2,41.1 976.7,41.4 979.1,43.8 982.2,43.8 982.8,40.8 984.0,38.3 988.9,38.0 989.8,38.9 990.1,32.2 991.0,26.7 992.5,25.2 996.8,25.2 998.6,27.0 999.0,32.8 1004.8,33.1 1006.9,35.3 1007.8,39.4 1008.8,44.1 1009.6,49.4 1010.1,53.6 1013.8,54.6 1017.5,57.7 1019.0,53.6 1020.6,52.0 1024.8,52.0 1026.4,54.6 1026.9,61.4 1027.7,67.7 1029.5,68.7 1032.1,71.4 1034.2,74.5 1035.8,78.2 1036.8,85.0 1041.5,85.5 1043.1,87.1 1046.0,92.0 1048.5,100.0 1050.5,112.0 1046.0,114.0 1044.2,111.2 1040.2,110.2 1037.2,108.2 1033.2,95.2 1030.5,90.0 1030.0,87.6 1028.5,82.4 1026.9,81.8 1023.2,81.8 1021.1,79.2 1020.1,73.5 1019.6,67.7 1016.4,66.6 1013.3,65.1 1011.2,68.7 1009.1,70.8 1005.9,70.8 1004.1,68.2 1003.3,61.4 1003.1,56.2 1001.8,54.1 999.1,53.6 996.5,52.0 996.0,56.2 994.9,59.8 992.9,61.4 990.2,61.9 987.1,59.3 985.0,54.6 981.5,53.3 978.2,54.2 977.0,56.7 976.0,62.2 972.4,65.2 969.3,67.6 968.7,70.1 966.3,71.9 963.8,75.0 963.2,81.1 962.9,86.0 960.8,87.8 955.3,87.8 950.0,93.0 946.0,101.0"/>
<polyline stroke="#00f" points="242.3,54.8 244.3,55.2 245.7,56.7 247.6,57.2 247.9,59.3 248.5,61.0 250.3,62.3 251.1,64.0 249.6,66.3 251.1,67.8 251.5,69.6 250.1,71.6 251.5,73.2 253.4,73.9 255.4,73.1 257.1,71.9 257.7,69.7 259.9,69.0 261.5,67.5 262.1,65.4 263.6,63.9 264.1,65.5 266.3,66.5 266.2,69.1 267.2,70.4 268.4,71.7 269.6,73.0 268.6,75.2 270.1,73.4 271.5,72.2 272.7,70.9 272.4,72.9 272.8,75.2 274.2,76.6 273.6,78.5 274.6,80.1 273.8,82.0 274.2,83.7 276.3,85.1 276.7,86.9 276.9,88.7 275.8,90.9 277.3,92.4 277.1,94.1 278.1,95.6 277.9,97.3 278.3,98.9 278.6,100.5 278.4,102.2 278.6,103.8 278.1,105.5 279.0,107.2 279.0,109.1 279.5,110.8 279.7,112.7 280.8,114.2 282.3,115.7 281.4,118.2 281.8,120.3 282.5,122.3 283.4,123.6 283.2,125.3 284.4,126.8 283.2,128.6 283.9,130.1 284.7,131.7 285.3,133.3 283.7,135.1 283.5,136.7 285.6,138.2 284.1,140.0 285.1,141.5 285.8,143.2 285.6,144.8 284.6,146.5 284.5,148.2 286.4,149.7 285.2,151.4 287.3,152.0 287.2,154.2 288.9,154.9 289.0,157.0 289.9,158.4 290.7,159.3 289.7,161.0 291.3,162.6 291.9,164.2 290.8,165.8 292.1,167.4 291.8,169.1 291.4,170.7 291.0,172.4 292.1,173.9 292.4,175.6 290.6,177.3 291.9,178.8 290.5,180.5 290.7,182.1 291.9,183.7 291.8,185.4 291.8,187.0 292.4,188.8 293.3,190.5 294.2,192.1 294.9,193.8 295.1,195.8 296.1,197.1 296.3,198.7 295.7,200.4 296.8,202.1 296.8,203.7 295.3,205.5 296.4,207.1 296.4,208.8 297.7,210.4 296.9,212.1 296.6,213.8 297.9,215.4 296.6,217.2 296.6,218.8 298.0,220.5 298.9,220.1 300.5,219.0 302.4,218.8 302.9,220.0 302.3,221.7 302.5,223.3 304.3,224.7 304.5,226.3 303.4,228.1 303.0,229.8 304.8,231.2 304.6,232.8 304.5,234.5 305.3,236.0 305.5,237.6 305.8,239.2 306.0,240.8 305.7,242.5 306.6,244.0 306.7,245.7 306.0,247.4 307.8,248.8 306.7,250.5 306.5,252.2 307.6,253.7 308.0,255.3 306.9,257.0 308.3,258.5 308.5,260.1 308.2,261.8 307.7,263.4 309.2,264.9 308.9,266.6 310.4,265.2 313.0,265.2 313.0,266.1 312.2,267.8 313.9,269.2 313.7,270.8 313.1,272.5 312.8,274.2 313.9,275.7 314.5,277.2 314.9,278.8 314.2,280.5 315.1,282.0 313.9,283.7 313.9,285.3 315.5,286.8 315.5,288.4 314.5,290.1 315.0,291.6 314.8,293.3 315.9,294.8 316.6,296.3 316.4,298.0 315.4,299.7 316.7,301.2 316.7,302.8 316.7,304.4 316.9,306.1 317.1,307.7 316.1,309.4 317.9,310.8 318.4,312.4 316.5,314.3 316.8,315.9 316.8,317.5 318.1,319.0 317.4,320.8 317.9,322.4 319.8,323.7 319.1,325.6 319.3,327.2 320.1,328.7 320.8,330.3 321.7,331.7 321.9,333.4 322.6,334.9 323.3,336.5 322.6,338.3 323.7,339.8 323.0,341.7 325.0,342.8 323.6,344.9 324.5,346.4 324.4,348.1 324.9,349.7 325.3,351.3 326.5,352.7 328.1,354.0 327.0,356.0 328.6,357.3 328.5,359.1 327.9,360.8 328.3,362.4 328.7,364.0 327.8,365.8 328.6,367.3 329.4,368.9 329.7,370.5 328.6,372.3 329.6,373.8 329.1,375.5 330.2,377.0 330.7,378.6 330.1,380.3 329.6,382.0 331.2,383.5 330.1,385.3 330.0,387.0 330.5,388.6 330.7,390.2 332.7,391.6 331.5,393.5 331.2,395.2 333.2,396.6 333.0,398.3 333.2,399.9 332.8,401.6 333.3,403.2 333.4,404.9 333.0,406.6 334.9,408.0 335.0,409.7 335.0,411.3 335.3,413.0 335.6,414.6 333.8,416.5 334.3,418.1 336.2,419.5 335.5,421.3 336.2,422.8 336.4,424.5 336.5,426.1 336.1,427.9 336.4,429.5 337.1,431.0 337.7,432.6 337.7,434.3 338.3,435.9 337.6,437.6 337.5,439.3 338.5,440.8 339.4,442.3 339.4,444.0 339.3,445.7 339.0,447.4 338.9,449.1 340.0,450.6 339.3,452.3 340.0,453.9 340.6,455.4 341.0,457.0 341.0,458.7 340.8,460.4 341.7,461.9 341.4,463.7 342.2,465.2 342.9,466.8 342.6,468.5 342.5,470.2 344.1,471.6 343.6,473.4 343.9,475.0 343.2,476.9 343.4,478.5 344.8,479.9 344.0,481.8 344.5,483.4 345.9,484.8 345.7,486.5 346.7,488.1 345.4,489.9 345.9,491.5 345.6,493.2 346.1,494.8 346.6,496.4 346.6,498.0 347.2,499.6 348.5,501.1 347.6,502.9 349.1,504.3 349.0,506.0 347.9,507.8 349.7,509.2 349.8,510.9 350.0,512.5 348.5,514.4 350.3,515.8 350.9,517.5 349.3,519.4 351.1,520.8 349.8,522.7 350.4,524.3 350.3,526.0 350.3,527.6 351.3,529.2 351.1,530.9 353.0,532.3 351.6,534.2 352.4,535.8 352.2,537.5 353.9,538.8 352.9,540.7 352.9,542.4 355.2,543.5 355.0,545.3 354.9,547.0 354.7,548.7 356.4,550.0 356.9,551.6 357.1,553.2 356.8,555.0 356.7,556.6 357.7,558.0 358.0,559.6 358.2,561.2 358.6,562.8 358.7,564.4 359.6,565.8 359.0,567.6 358.2,569.3 359.6,570.7 359.2,572.4 360.7,573.8 359.8,575.5 359.9,577.2 360.3,578.7 360.8,580.3 361.2,581.8 361.0,583.5 360.7,585.2 362.6,586.5 362.9,588.1 361.8,589.9 362.2,591.7 363.8,592.8 364.6,594.2 364.8,596.0 366.6,596.9 367.2,598.5 368.1,599.9 367.8,602.0 368.9,603.6 369.6,605.3 369.2,607.4 369.1,609.3 371.5,609.9 371.9,611.7 373.4,612.5 373.8,614.4 375.3,615.2 377.2,614.8 378.9,614.9 380.7,614.7 382.3,615.9 384.1,616.4 386.0,616.6 387.6,617.7 389.4,618.3 390.8,620.0 391.4,617.5 394.0,617.3 394.1,615.2 395.4,614.0 396.2,612.5 397.7,614.0 399.5,614.9 401.4,615.2 402.6,613.8 404.2,612.8 405.6,611.7 406.0,609.7 407.7,608.9 409.3,607.9 410.2,606.3 411.7,604.9 413.5,604.1 415.7,604.1 417.3,603.9 419.1,604.4 420.8,604.0 422.4,602.5 424.1,602.2 425.6,603.9 426.8,605.1 426.9,607.1 427.6,608.6 428.6,609.9 430.7,610.4 430.0,612.5 431.7,613.7 431.9,615.3 431.8,617.1 433.6,618.2 434.1,619.8 433.0,621.8 434.6,623.0 435.0,624.6 435.3,626.2 435.8,627.8 437.8,628.6 437.9,630.3 438.4,631.9 439.0,633.4 440.1,634.7 439.9,636.5 439.7,638.3 441.4,639.4 441.7,641.1 443.1,642.3 443.3,643.9 443.1,645.7 444.5,647.2 443.1,649.2 443.3,651.0 445.3,652.4 443.7,654.4 445.2,656.0 444.6,657.9 444.9,659.6 446.2,661.2 445.6,663.1 446.4,664.6 446.9,666.2 448.7,667.2 448.4,669.1 448.8,670.8 450.1,672.0 450.7,673.6 452.1,675.1 451.7,677.0 452.4,678.7 452.1,680.6 452.6,682.3 453.2,684.0 454.5,685.5 454.3,687.4 455.1,689.0 456.7,690.1 456.1,692.4 457.3,693.7 459.1,694.8 458.2,697.1 460.3,698.0 460.4,699.7 460.1,701.5 460.8,703.0 461.4,704.5 461.7,706.1 463.8,707.2 465.7,708.2 467.4,709.1 469.1,710.1 469.7,712.4 471.1,713.9 472.9,715.1 474.1,716.9 475.4,714.9 476.4,713.4 477.7,712.2 479.6,711.5 478.9,709.1 480.6,708.2 480.9,706.5 482.7,705.7 482.7,703.8 483.3,702.4 484.2,701.0 485.1,699.7 486.3,698.4 486.1,696.6 487.8,695.3 487.1,692.9 488.1,691.3 488.5,689.4 489.2,687.7 491.1,686.6 491.6,684.9 491.0,682.9 491.6,681.3 492.6,679.9 493.8,678.5 494.3,676.7 494.6,675.0 494.6,673.2 494.0,671.3 494.9,669.7 494.8,667.9 495.9,666.4 496.4,664.8 496.0,663.0 496.5,661.5 498.0,660.1 496.8,658.2 498.8,657.1 499.4,655.6 500.0,654.0 499.2,652.2 499.9,650.7 500.4,649.2 500.9,647.7 502.0,646.3 501.8,644.6 501.6,642.8 503.3,641.6 503.2,639.7 504.0,638.3 504.9,636.8 504.0,634.6 506.2,633.6 506.5,632.0 506.8,630.3 507.4,628.7 507.9,627.1 507.7,625.3 508.7,623.8 508.0,621.9 509.4,620.4 510.0,618.8 509.9,617.0 510.5,615.4 511.7,613.9 511.9,612.2 510.6,610.2 512.4,608.8 512.3,607.0 511.4,605.1 513.1,603.7 513.8,602.2 514.5,600.6 516.3,599.8 517.9,599.0 517.8,596.8 519.7,596.1 520.4,594.5 519.7,592.4 521.7,591.1 521.7,589.3 522.9,587.8 522.9,586.0 523.4,584.3 523.1,582.4 524.6,581.0 525.3,579.4 525.6,577.7 525.0,575.9 526.1,574.5 525.9,572.7 525.5,570.9 525.8,569.3 526.2,567.7 526.9,566.2 527.2,564.6 528.3,563.2 529.1,561.7 529.9,560.4 530.8,558.9 532.3,557.9 532.8,556.1 534.1,555.0 535.1,553.5 534.7,551.7 534.6,549.9 536.5,548.5 536.5,546.7 536.0,544.8 536.4,543.1 537.1,541.5 537.6,539.8 537.6,538.0 538.0,536.2 539.2,534.8 541.1,533.9 540.6,531.7 542.0,530.4 542.3,528.6 543.3,527.0 544.1,525.4 545.5,524.1 546.0,522.3 546.7,520.6 547.7,519.1 548.8,517.6 550.5,516.7 550.9,514.8 551.9,513.5 553.7,512.9 554.7,511.5 556.3,510.7 557.5,509.1 559.4,509.6 561.1,509.2 562.7,508.1 564.8,509.8 565.2,507.0 566.1,505.4 567.9,504.4 568.5,502.6 570.4,501.8 570.9,503.1 571.7,504.6 572.2,506.1 571.1,508.0 572.5,509.4 571.7,511.2 572.8,512.6 572.1,514.4 573.8,515.7 575.3,515.5 577.1,515.8 578.8,517.2 580.6,517.0 582.5,516.7 583.8,515.6 585.8,516.2 587.6,516.2 588.9,514.8 590.0,513.0 591.4,512.1 593.1,511.2 594.7,510.4 596.2,509.1 596.8,507.9 598.9,507.1 600.3,505.9 599.9,503.5 602.3,502.9 602.4,500.8 604.1,499.8 605.4,498.6 606.6,497.3 606.2,494.6 607.8,493.6 609.1,492.5 610.5,491.3 609.6,488.9 610.8,487.6 612.6,486.7 611.9,484.4 613.7,483.5 614.7,482.2 616.4,481.6 618.0,480.9 617.9,478.3 620.0,477.7 621.2,476.2 622.5,475.0 622.9,473.2 624.5,472.2 624.3,470.2 625.3,468.9 625.9,467.3 627.7,466.2 627.8,464.4 628.0,462.6 628.5,460.9 630.3,459.8 630.6,457.8 631.3,456.0 631.0,454.0 631.7,452.2 631.5,450.2 633.1,448.7 632.1,446.5 633.5,444.9 634.6,443.2 634.9,441.3 635.5,439.4 637.2,438.5 639.5,438.4 640.7,436.9 642.6,436.2 644.1,435.1 644.7,432.8 646.6,431.9 647.5,430.1 648.8,430.2 650.2,431.1 652.0,431.3 652.6,430.8 654.6,430.5 654.4,428.0 656.3,427.6 658.2,427.9 659.8,429.0 660.6,431.2 662.5,430.9 664.2,431.1 665.7,431.9 666.3,434.4 667.5,435.9 669.7,436.7 670.5,438.5 670.0,440.8 672.3,441.3 672.6,443.1 673.7,444.3 674.0,446.1 675.8,447.1 677.0,448.6 678.8,449.3 680.7,449.9 681.4,452.1 682.1,453.9 681.0,456.1 683.0,457.6 683.6,459.3 681.8,461.4 683.8,462.8 682.5,464.7 684.5,466.1 684.0,467.9 684.7,469.4 683.7,471.3 684.4,472.9 684.6,474.5 684.6,476.2 684.6,477.9 686.0,479.4 685.7,481.1 686.2,482.7 687.2,484.2 685.9,486.1 686.7,487.7 686.4,489.4 688.3,490.9 688.1,492.9 688.8,494.6 688.8,496.6 690.7,498.0 690.6,499.9 690.7,501.5 692.0,502.9 691.3,504.7 691.3,506.3 692.4,507.7 692.2,509.4 692.7,510.9 693.9,512.3 694.0,513.9 692.9,515.9 694.6,517.4 694.6,519.2 695.7,520.8 695.6,522.6 696.0,524.3 694.6,526.3 695.3,528.0 695.2,529.8 695.3,531.6 696.3,533.2 695.9,535.0 697.0,536.7 697.6,538.4 696.7,540.3 697.0,542.0 697.3,543.7 698.7,545.0 698.5,546.7 699.7,548.1 698.8,549.9 699.3,551.5 701.1,552.7 700.1,554.6 702.1,555.7 702.5,557.5 701.4,559.4 702.6,561.0 702.4,562.9 702.4,564.6 704.0,566.2 702.7,568.1 704.0,569.7 704.1,571.4 704.8,572.9 704.5,574.8 705.0,576.4 706.4,577.7 707.3,579.1 707.4,580.9 707.7,582.5 708.8,583.8 709.1,585.4 708.3,587.4 708.9,588.9 708.8,590.6 709.3,592.2 709.9,593.7 711.5,594.9 712.7,596.0 713.2,597.6 713.7,599.2 714.4,600.6 715.2,602.0 716.4,603.2 715.7,605.2 717.4,606.5 717.4,608.1 716.9,610.0 717.4,611.5 718.9,612.8 719.4,614.4 718.5,616.4 720.5,617.8 720.5,619.6 719.9,621.5 720.1,623.3 721.2,624.9 721.7,626.6 721.6,628.4 721.0,630.3 722.3,631.7 721.8,633.7 722.8,635.1 723.0,636.9 725.6,637.7 725.8,639.5 726.6,641.2 726.1,643.1 726.6,644.7 727.6,646.3 726.9,648.2 728.3,649.7 728.2,651.5 728.7,653.2 727.9,655.1 729.1,656.6 729.8,658.2 730.6,659.7 730.2,661.6 730.1,663.4 730.4,665.0 730.3,666.8 730.9,668.4 732.5,669.8 733.1,671.4 732.2,673.4 732.5,675.0 733.3,676.5 732.9,678.2 733.7,679.7 734.5,681.2 735.0,682.7 735.6,684.3 734.4,686.1 734.1,687.8 734.3,689.3 735.5,690.8 735.3,692.5 735.0,694.3 735.5,696.0 736.3,697.7 736.9,699.3 737.0,701.1 738.0,702.7 738.2,704.5 737.4,706.4 737.0,708.2 738.2,709.8 738.7,711.4 739.1,712.9 739.1,714.6 738.6,716.3 739.6,717.7 738.8,719.5 740.8,720.8 740.7,722.5 740.5,724.1 740.9,725.7 740.2,727.4 740.6,729.0 740.7,730.6 741.7,732.1 743.2,733.4 742.4,735.2 742.7,736.8 743.2,738.4 743.9,739.9 743.3,741.6 743.2,743.3 745.3,744.5 744.3,746.3 745.2,747.8 745.1,749.5 744.5,751.2 744.6,752.8 745.6,754.3 746.8,755.7 745.4,757.6 747.3,758.9 747.1,760.6 746.4,762.3 747.8,763.7 748.2,765.3 747.1,767.1 747.4,768.7 749.1,770.0 749.2,771.6 749.8,773.2 750.4,774.7 750.5,776.3 749.2,778.2 751.5,779.4 751.6,781.0 752.0,782.6 752.7,784.2 752.1,786.0 752.0,787.7 752.2,789.3 753.1,790.8 753.0,792.5 755.2,793.7 755.0,795.4 753.9,797.3 756.2,798.6 756.1,800.4 756.0,802.2 756.8,803.8 756.6,805.6 758.0,807.0 757.9,808.8 756.7,810.8 758.8,812.2 757.5,814.2 759.5,815.3 758.3,817.4 759.4,818.7 760.0,820.3 761.5,821.5 762.1,823.0 761.1,825.0 762.8,826.1 763.3,827.7 762.4,829.7 762.7,831.2 765.0,832.3 763.5,834.4 764.9,835.7 765.6,837.2 766.7,838.5 766.6,840.3 765.8,842.2 768.0,843.3 769.1,844.7 769.9,846.4 770.7,847.9 771.1,849.8 770.8,851.9 773.2,852.7 773.9,854.1 773.6,856.4 774.5,857.9 775.5,859.3 777.9,859.7 778.7,861.2 778.6,863.4 780.5,864.2 781.1,865.9 782.8,866.8 784.4,867.8 784.9,869.6 785.2,871.5 786.2,873.0 787.6,874.1 788.7,875.4 789.5,876.8 790.6,878.1 791.4,879.6 791.8,881.4 793.8,882.0 794.1,883.9 794.4,885.7 795.5,887.0 797.6,887.6 797.1,889.9 798.3,891.2 800.4,891.7 801.2,893.3 802.2,894.6 803.4,895.8 802.7,898.3 804.7,899.0 804.7,900.9 807.0,901.5 808.0,902.7 807.3,905.1 808.3,906.4 808.8,908.1 810.3,909.1 811.5,910.3 812.0,912.0 814.2,912.6 814.4,914.6 815.5,915.8 817.1,916.9 817.2,918.8 818.7,919.9 819.8,921.3 821.4,922.2 822.9,923.3 824.2,924.5 825.3,926.1 826.1,927.9 827.6,928.9 829.1,929.7 830.6,930.7 832.7,930.7 833.2,932.9 835.5,932.6 837.1,933.3 837.9,935.3 839.0,936.9 840.9,937.5 841.8,939.2 843.8,939.3 844.9,941.4 847.0,941.2 848.6,942.0 850.3,942.7 851.8,944.0 853.4,944.9 855.5,944.5 857.2,945.0 858.9,945.7 860.8,944.9 862.4,946.0 863.9,947.2 865.7,947.4 867.7,946.1 869.1,948.1 871.0,947.3 872.5,948.9 874.4,947.8 876.2,947.7 877.8,948.7 879.4,949.7 881.3,949.0 882.9,950.2 884.7,950.0 886.4,949.5 888.1,949.5 889.8,950.1 891.5,950.1 893.2,950.1 894.9,950.8 896.6,951.4 898.4,950.8 900.1,949.9 901.8,950.1 903.5,950.4 905.3,951.0 907.0,949.9 908.7,949.8 910.4,950.1 912.1,949.9 913.8,949.1 915.6,950.1 917.4,950.7 919.0,949.7 920.8,950.0 922.5,950.0 924.2,949.9 926.0,949.9 927.6,948.6 929.4,948.8 931.0,948.1"/>
<polyline stroke="#008080" points="218.5,111.0 218.3,109.1 218.3,107.3 218.9,105.5 218.7,103.6 218.7,101.8 219.4,100.0 220.2,98.4 220.3,96.7 220.4,95.0 219.8,93.3 220.4,91.7 220.2,90.0 220.3,88.3 220.4,86.6 220.8,84.9 222.0,83.4 222.0,81.7 222.2,80.1 222.4,78.4 221.8,76.7 222.2,75.1 222.8,73.5 223.2,71.9 223.6,70.3 223.8,68.7 222.9,66.9 224.0,65.4 224.5,63.9 224.7,62.2 224.7,60.5 225.5,59.0 226.0,57.2 228.0,56.3 229.1,58.4 230.4,60.0 231.8,61.9 232.0,64.3 233.5,66.0 233.7,68.2 234.4,70.1 235.5,72.0 235.8,73.6 235.8,75.2 236.2,76.8 236.8,78.3 236.8,80.0 236.3,81.8 237.5,83.5 237.7,85.3 237.1,87.2 237.8,89.0 237.8,90.7 238.3,92.4 238.8,94.1 238.3,96.0 239.8,97.5 239.9,99.3 240.5,101.0 240.3,102.8 241.1,104.5 241.3,106.2 241.1,108.0 242.0,109.6 242.0,111.4 241.8,113.2 243.2,114.7 243.6,116.5 243.7,118.2 243.2,120.1 243.5,121.7 244.2,123.3 244.2,124.9 244.5,126.6 244.2,128.3 244.9,129.9 244.1,131.6 243.9,133.3 244.0,134.9 244.4,136.5 244.2,138.2 245.6,139.8 245.3,141.5 244.5,143.2 244.9,144.8 245.5,146.4 244.9,148.1 245.4,149.8 245.3,151.4 246.1,153.0 246.4,154.7 246.1,156.4 246.6,158.0 246.4,159.7 245.7,161.4 246.7,163.0 247.3,164.6 247.3,166.2 247.3,167.9 246.5,169.6 247.2,171.2 247.4,172.9 247.8,174.5 246.7,176.2 247.6,177.8 248.0,179.5 248.3,181.1 248.4,182.8 248.7,184.4 248.4,186.2 249.5,187.7 250.1,189.4 249.9,191.2 250.7,192.8 250.1,194.7 251.7,196.1 251.5,197.9 251.6,199.7 252.2,201.2 251.5,202.9 252.3,204.5 252.7,206.1 252.6,207.7 253.2,209.3 252.8,210.9 253.1,212.5 252.3,214.2 252.5,215.8 253.1,217.4 253.8,219.0 253.6,220.6 253.7,222.2 253.8,223.8 253.9,225.5 253.1,227.1 254.2,228.7 254.4,230.3 253.3,232.0 253.9,233.6 253.4,235.2 254.5,236.8 254.2,238.5 254.8,240.0 254.9,241.7 255.3,243.3 255.9,244.8 256.8,246.3 256.9,247.9 256.3,249.7 256.6,251.3 256.9,252.9 258.0,254.4 257.9,256.0 258.0,257.7 258.5,259.2 258.6,260.9 259.3,262.4 259.4,264.2 259.6,265.9 260.5,267.5 259.9,269.4 260.1,271.1 261.6,272.6 260.7,274.5 261.0,276.3 261.7,277.9 262.8,279.5 261.9,281.4 262.5,279.4 264.2,278.0 264.3,276.1 264.0,274.1 264.6,272.4 265.8,270.9 267.1,270.0 268.7,269.4 270.3,268.8 271.2,267.1 272.6,266.0 273.7,268.2 275.8,268.5 276.2,270.6 278.2,271.1 278.8,273.0 280.0,274.2 281.8,275.4 283.7,276.0 285.2,277.5 286.1,278.6 285.6,280.2 286.3,281.8 285.7,283.5 286.0,285.1 286.6,286.6 286.7,288.2 287.6,289.8 287.8,291.4 287.2,293.1 287.5,294.7 287.2,296.3 287.7,297.9 288.6,299.4 288.4,301.1 288.0,302.7 288.6,304.3 290.1,305.2 290.1,307.2 291.0,308.5 292.8,309.2 293.2,310.9 294.3,312.1 294.7,313.7 296.2,314.6 296.7,316.4 296.6,318.1 296.2,319.8 297.7,321.3 298.0,322.9 297.5,324.7 297.5,326.4 299.1,324.9 300.0,323.4 301.6,322.4 302.5,320.9 302.8,318.9 304.7,318.2 305.9,318.9 307.0,320.2 307.7,322.0 309.4,322.9 310.3,324.5 311.8,325.6 311.6,327.7 313.3,328.9 314.1,330.6 314.4,332.4 315.3,334.0 315.8,335.7 316.2,338.0 317.2,340.1 318.4,341.7 318.1,343.5 317.9,345.3 318.2,347.0 318.0,348.8 318.5,350.5 319.3,352.2 319.2,354.0 318.5,355.8 319.4,357.5 319.0,359.2 318.8,360.8 319.5,362.4 319.6,364.0 319.9,365.7 320.4,367.3 319.8,369.0 320.5,370.5 320.1,372.2 321.1,373.8 320.5,375.5 320.8,377.1 321.2,378.7 321.6,380.3 322.1,381.9 321.4,383.6 322.2,385.2 322.0,386.9 323.0,388.4 323.3,390.1 323.4,391.7 322.7,393.5 323.8,395.0 323.0,396.8 323.9,398.3 323.9,400.0 324.4,401.6 324.3,403.3 325.2,404.8 325.0,406.5 324.5,408.2 325.7,409.7 325.3,411.5 326.0,413.0 326.2,414.7 326.8,416.3 327.1,417.9 326.0,419.7 326.4,421.3 326.6,423.0 326.8,424.6 326.9,426.3 328.2,427.7 327.8,429.5 328.2,431.1 328.3,432.7 328.0,434.4 328.4,436.0 328.3,437.7 329.7,439.2 329.1,440.9 329.3,442.5 329.4,444.1 329.8,445.7 329.6,447.4 330.6,448.9 329.9,450.7 330.8,452.2 330.7,453.9 330.5,455.5 330.9,457.1 331.7,458.7 332.0,460.3 332.1,461.9 331.9,463.6 331.6,465.3 331.9,467.0 332.9,468.5 333.1,470.1 332.7,471.9 333.7,473.4 333.7,475.1 334.5,476.6 334.5,478.3 334.2,480.0 334.2,481.7 334.5,483.3 335.1,484.9 334.4,486.6 335.1,488.2 335.9,489.7 336.2,491.4 335.1,493.1 335.2,494.8 335.5,496.4 336.1,498.0 336.6,499.6 337.1,501.2 337.0,502.8 337.2,504.4 336.4,506.2 336.6,507.8 337.0,509.4 338.0,511.0 338.3,512.7 338.6,514.5 338.1,516.5 339.6,518.1 339.2,520.1 339.5,521.7 339.7,523.3 339.3,525.0 340.4,526.5 340.1,528.2 340.7,529.8 340.9,531.4 341.1,533.1 340.8,534.7 341.2,536.3 341.4,538.0 340.2,539.7 341.3,541.3 340.5,543.0 340.9,544.6 341.0,546.2 341.3,547.9 341.0,549.5 341.3,551.1 341.7,552.8 342.1,554.4 342.0,556.0 342.2,557.7 342.6,559.3 342.8,560.9 343.5,562.5 342.7,564.2 343.3,565.8 344.1,567.3 344.1,569.0 343.3,570.7 344.3,572.3 344.3,573.9 344.1,575.6 344.0,577.3 344.9,578.8 345.0,580.5 345.1,582.1 345.8,583.7 344.8,585.5 346.1,587.0 345.0,588.7 346.3,590.3 346.4,591.9 345.6,593.6 345.8,595.3 346.8,596.8 346.5,598.5 346.9,600.1 346.7,601.8 347.7,603.4 347.0,605.1 347.0,606.8 347.6,608.4 347.5,610.0 347.7,611.7 348.7,613.2 348.3,614.9 348.5,616.6 349.1,618.2 350.0,619.7 349.5,621.4 349.3,623.1 350.4,624.7 350.2,626.3 350.1,628.0 350.7,629.5 351.8,631.0 351.2,632.8 352.0,634.3 351.4,636.0 352.0,637.6 352.7,639.1 352.2,640.9 352.8,642.4 353.5,644.0 353.0,645.7 353.3,647.3 353.5,648.9 353.8,650.5 354.4,652.0 354.7,653.6 355.1,655.2 355.5,656.8 355.2,658.5 356.3,660.0 357.0,661.5 356.4,663.3 357.0,664.8 357.5,666.3 358.0,667.9 359.0,669.3 359.6,670.8 360.3,672.2 359.9,674.1 360.3,675.7 361.1,677.1 362.7,678.2 362.6,680.2 363.6,681.6 364.9,682.8 366.3,683.9 366.2,685.9 367.7,687.1 369.0,688.3 370.8,688.9 371.4,690.9 373.3,691.5 374.2,693.1 375.7,694.0 377.1,694.2 378.9,694.9 380.6,694.7 382.4,694.8 384.1,694.1 385.8,693.9 387.6,693.9 389.2,692.7 391.0,692.9 392.9,693.4 394.1,691.4 395.2,690.0 395.6,688.0 397.0,686.8 398.1,685.4 399.0,683.9 399.7,682.2 401.4,681.2 403.1,680.4 405.2,681.0 406.1,678.9 405.7,676.9 406.8,675.4 406.9,673.5 407.7,671.8 408.5,670.2 408.3,668.2 409.1,666.8 409.2,665.1 410.0,663.6 409.8,661.9 410.6,660.4 411.1,658.9 412.5,657.6 411.9,655.7 413.2,654.4 413.7,652.8 415.8,652.7 416.3,650.8 417.4,649.7 418.7,648.8 420.3,647.9 420.7,646.2 421.7,644.8 422.0,643.1 422.2,641.4 423.3,640.0 424.1,638.6 426.0,637.8 426.5,635.7 427.8,634.4 429.7,633.7 430.3,631.7 432.5,631.2 433.2,629.2 434.8,628.2 435.6,626.7 436.7,625.4 436.4,623.4 438.1,622.4 438.0,620.5 439.4,619.3 439.3,617.4 441.1,616.1 441.3,614.0 442.2,612.3 442.8,610.4 444.4,609.1 445.5,607.6 447.4,606.8 448.2,605.0 449.1,603.3 450.9,602.4 450.4,600.1 451.0,598.4 452.5,596.9 453.0,595.2 453.1,593.4 454.0,591.7 453.2,589.6 454.7,588.1 454.7,586.3 454.9,584.6 455.5,582.9 454.8,581.0 455.2,579.2 456.5,577.6 458.2,576.7 459.5,575.4 460.8,574.1 461.0,572.3 462.0,570.7 462.6,569.0 462.9,567.2 462.3,565.2 462.9,563.5 464.5,561.9 465.9,560.5 467.7,559.5 469.5,559.0 471.5,559.6 473.4,559.2 475.3,559.2 477.0,560.1 478.6,560.9 480.6,560.3 482.3,561.0 483.8,562.3 484.4,560.0 484.9,558.4 485.8,557.0 487.3,556.0 487.9,554.5 488.9,553.1 489.1,551.4 489.2,549.7 490.3,548.4 491.3,547.1 491.5,545.4 491.7,543.8 492.5,542.4 493.2,540.9 493.6,539.3 494.3,537.8 494.4,536.2 494.8,534.6 496.4,533.4 496.6,531.7 496.4,530.0 496.3,528.3 496.8,526.7 497.5,525.1 498.2,523.5 497.9,521.8 498.9,520.3 498.5,518.5 498.3,516.8 499.2,515.3 499.4,513.6 499.9,512.1 500.5,510.6 500.0,508.7 501.0,507.3 502.0,505.9 501.6,504.1 501.9,502.5 503.7,500.9 505.2,499.6 506.8,498.3 508.3,497.4 509.9,497.1 511.1,495.8 511.9,498.0 511.8,499.9 512.3,501.7 512.1,503.6 512.5,505.4 513.7,507.0 514.7,508.6 515.6,510.4 516.6,512.0 518.0,513.5 517.6,515.4 518.7,516.9 518.6,518.6 519.3,520.2 518.5,522.1 519.2,523.7 518.9,525.4 520.3,526.9 519.8,528.7 520.2,530.4 521.2,532.0 520.4,533.8 520.6,535.5 521.8,537.0 520.8,538.7 521.1,540.3 521.5,542.0 521.7,543.6 522.3,545.2 522.7,546.8 522.2,548.5 521.8,550.2 522.9,551.7 522.7,553.4 523.1,555.0 522.6,556.7 522.4,558.4 522.6,560.0 523.6,561.6 523.5,563.3 524.2,564.9 523.6,566.6 523.3,568.3 523.4,570.0 524.6,571.6 524.3,573.3 524.9,574.9 524.5,576.6 524.0,578.3 525.0,580.0 524.3,581.7 524.3,583.4 524.6,585.0 525.6,586.6 524.7,588.4 524.8,590.0 524.9,591.7 526.5,593.3 526.7,594.9 526.5,596.6 526.3,598.3 526.7,600.0 527.3,601.6 526.8,603.3 526.9,605.0 527.2,606.7 527.5,608.3 527.7,610.0 527.7,611.7 528.7,613.2 528.4,615.0 529.0,616.6 529.3,618.2 528.7,620.0 529.6,621.5 530.0,623.2 530.4,624.8 530.3,626.5 531.3,628.0 530.9,629.8 532.0,631.3 531.2,633.2 532.6,634.6 532.1,636.4 532.8,638.0 533.3,639.6 533.8,641.2 534.0,642.8 533.8,644.6 534.5,646.2 534.8,647.9 535.5,649.5 535.4,651.2 536.3,652.8 536.2,654.6 536.3,656.3 536.8,657.9 537.1,659.6 537.4,661.3 538.3,662.9 537.5,664.7 538.2,666.3 539.0,668.0 539.5,669.7 540.9,670.9 541.9,672.4 542.7,674.0 543.4,675.5 544.2,677.1 545.3,678.3 546.5,679.4 547.3,681.0 548.6,682.0 549.6,683.4 550.3,684.9 551.8,685.8 552.6,687.5 554.1,688.5 555.8,689.1 556.8,690.7 558.7,691.1 560.1,692.1 560.7,694.2 562.9,694.2 564.4,695.2 565.1,697.3 567.3,697.4 568.2,699.2 569.8,700.2 571.5,700.9 572.9,701.8 573.9,703.6 575.7,703.8 577.3,704.6 578.6,705.7 579.8,707.0 581.6,706.2 583.3,705.7 585.1,706.5 586.6,705.3 588.3,705.0 589.9,704.7 592.0,705.4 593.5,704.0 595.4,703.8 597.0,702.9 598.9,702.2 599.8,700.3 601.2,699.1 603.0,698.3 603.8,696.4 605.6,695.7 607.4,696.5 609.2,696.6 610.9,696.9 612.5,697.8 614.4,697.5 615.7,696.4 616.4,694.7 617.1,693.1 618.5,691.9 619.4,690.4 621.1,689.1 623.0,688.6 624.6,687.5 626.6,687.0 628.5,686.5 630.3,685.7 632.1,685.0 633.5,683.4 635.0,682.3 636.4,681.0 637.0,679.2 638.7,678.2 639.0,676.0 641.1,675.3 642.4,675.3 644.1,675.2 645.9,674.8 647.6,674.5 649.3,673.9 651.0,674.8 652.7,675.5 654.5,675.7 656.3,676.2 657.9,677.2 659.8,676.3 661.6,676.4 663.3,675.9 665.1,677.1 666.8,676.8 667.6,678.1 669.2,679.2 670.3,680.5 671.0,682.2 671.6,683.9 673.5,684.5 674.9,685.6 676.3,686.7 677.3,688.2 679.3,688.5 679.4,690.6 681.3,691.4 681.4,693.4 682.1,694.9 683.4,696.1 683.9,697.8 684.8,699.1 685.4,700.6 685.4,702.3 685.9,703.8 685.7,705.5 686.2,707.0 686.4,708.6 686.3,710.3 687.0,711.8 687.3,713.4 687.5,715.0 687.9,716.6 688.5,718.0 689.5,719.5 689.6,721.1 689.7,722.7 690.0,724.3 690.3,725.9 690.9,727.4 691.9,728.9 693.2,730.1 693.7,731.8 695.1,733.0 695.4,734.8 696.8,736.0 697.9,737.4 697.3,739.4 698.1,740.9 699.4,742.1 700.4,743.5 700.0,745.4 700.7,746.8 702.1,748.0 702.2,749.9 703.0,751.5 704.2,752.8 705.5,754.1 706.6,755.5 707.5,757.0 707.9,758.8 708.4,760.6 709.8,761.8 711.5,762.6 712.1,764.4 714.1,764.9 714.8,766.7 716.5,767.5 717.9,768.6 718.6,770.5 718.6,772.4 720.1,773.6 721.1,775.0 721.3,776.9 722.3,778.3 722.8,780.0 723.5,781.6 724.1,783.2 724.7,784.9 726.2,786.1 726.6,787.9 728.0,789.1 728.6,790.7 729.6,792.2 729.4,794.2 730.8,795.4 731.1,797.2 731.4,798.9 732.5,800.4 733.2,802.1 733.6,803.8 733.8,805.5 734.4,807.2 735.3,808.8 734.7,810.8 735.4,812.4 735.6,814.1 736.3,815.7 737.1,817.2 737.5,818.8 738.3,820.3 739.3,821.7 739.4,823.4 739.9,825.0 741.6,826.2 742.2,827.7 742.6,829.3 742.7,831.0 742.6,832.7 743.5,834.1 743.5,835.8 744.6,837.2 744.8,838.8 745.7,840.2 745.6,842.0 747.0,843.1 748.2,844.3 748.7,846.0 749.5,847.5 750.0,849.2 751.6,850.1 751.7,852.2 752.6,853.7 754.2,854.8 754.3,856.8 754.9,858.5 755.6,860.1 756.8,861.5 758.3,862.5 759.3,863.8 760.4,865.0 761.6,866.2 763.1,866.9 763.6,868.8 765.4,869.6 767.2,870.2 768.4,871.5 770.0,872.4 771.0,874.0 772.6,874.8 773.3,876.4 774.7,877.3 775.3,879.0 776.6,880.1 778.3,880.7 778.8,882.7 780.2,883.9 781.7,885.0 782.2,887.0 784.3,887.6 785.0,889.3 786.0,890.9 787.6,891.9 788.4,893.5 789.2,895.3 790.9,896.2 791.7,897.9 793.1,898.9 792.9,900.8 793.7,902.2 795.5,903.1 795.6,904.9 796.9,906.0 798.1,907.2 798.8,908.7 799.2,910.5 800.5,911.7 801.5,913.1 802.9,914.2 803.9,915.6 804.7,917.2 805.7,918.5 806.6,920.0 808.2,920.8 809.5,921.9 810.1,923.7 811.5,924.7 812.6,926.0 814.0,927.0 815.7,927.7 817.3,928.4 818.8,929.2 819.7,930.8 821.0,931.9 822.3,933.1 824.0,933.7 825.8,933.8 827.4,934.4 828.8,935.6 830.8,935.1 832.3,936.0 833.8,936.9 835.8,937.3 837.9,937.6 840.1,937.3 841.7,938.2 843.5,938.0 845.2,938.7 847.0,938.7 848.6,939.3 850.3,940.2 852.1,940.4 853.9,940.6 855.5,941.5 857.1,942.3 859.0,942.2 860.7,942.5 862.4,943.0 864.0,943.7 865.9,943.2 867.5,944.3 869.3,943.7 870.9,945.1 872.7,944.4 874.3,945.5 876.2,944.7 877.8,945.6 879.6,945.5 881.2,946.5 882.9,946.8 884.7,946.0 886.4,945.9 888.1,947.0 889.8,946.6 891.5,946.6 893.2,946.6 894.9,946.6 896.7,946.9 898.4,946.6 900.1,946.3 901.8,946.7 903.6,947.3 905.3,946.9 907.0,946.8 908.7,947.0 910.4,946.2 912.1,946.0 913.9,946.6 915.6,945.5 917.3,946.4 919.0,945.3 920.8,945.8 922.5,945.5 924.2,945.7 925.8,944.5 927.6,945.3 929.3,945.6 931.0,945.1"/>
</g>
<g stroke="#000" fill="none" stroke-width="4.4">
<line x1="216" y1="8" x2="216" y2="958.7"/>
<line x1="196" y1="956.5" x2="1374" y2="956.5"/>
<line x1="196" y1="956.5" x2="216" y2="956.5"/>
<line x1="196" y1="776.3" x2="216" y2="776.3"/>
<line x1="196" y1="596.1" x2="216" y2="596.1"/>
<line x1="196" y1="415.9" x2="216" y2="415.9"/>
<line x1="196" y1="235.7" x2="216" y2="235.7"/>
<line x1="196" y1="55.5" x2="216" y2="55.5"/>
<line x1="206" y1="866.4" x2="216" y2="866.4"/>
<line x1="206" y1="686.2" x2="216" y2="686.2"/>
<line x1="206" y1="506.0" x2="216" y2="506.0"/>
<line x1="206" y1="325.8" x2="216" y2="325.8"/>
<line x1="206" y1="145.6" x2="216" y2="145.6"/>
<line x1="243.5" y1="956.5" x2="243.5" y2="976.5"/>
<line x1="381.1" y1="956.5" x2="381.1" y2="976.5"/>
<line x1="518.8" y1="956.5" x2="518.8" y2="976.5"/>
<line x1="656.4" y1="956.5" x2="656.4" y2="976.5"/>
<line x1="794.0" y1="956.5" x2="794.0" y2="976.5"/>
<line x1="931.6" y1="956.5" x2="931.6" y2="976.5"/>
<line x1="1069.2" y1="956.5" x2="1069.2" y2="976.5"/>
<line x1="1206.9" y1="956.5" x2="1206.9" y2="976.5"/>
<line x1="1344.5" y1="956.5" x2="1344.5" y2="976.5"/>
<line x1="312.3" y1="956.5" x2="312.3" y2="967.5"/>
<line x1="449.9" y1="956.5" x2="449.9" y2="967.5"/>
<line x1="587.6" y1="956.5" x2="587.6" y2="967.5"/>
<line x1="725.2" y1="956.5" x2="725.2" y2="967.5"/>
<line x1="862.8" y1="956.5" x2="862.8" y2="967.5"/>
<line x1="1000.4" y1="956.5" x2="1000.4" y2="967.5"/>
<line x1="1138.1" y1="956.5" x2="1138.1" y2="967.5"/>
<line x1="1275.7" y1="956.5" x2="1275.7" y2="967.5"/>
</g>
<g font-family="Liberation Sans" font-size="52.5" fill="#000">
<text transform="translate(242.8 1027.1) scale(1 1.037)" text-anchor="middle">250</text>
<text transform="translate(380.4 1027.1) scale(1 1.037)" text-anchor="middle">300</text>
<text transform="translate(518.0 1027.1) scale(1 1.037)" text-anchor="middle">350</text>
<text transform="translate(655.7 1027.1) scale(1 1.037)" text-anchor="middle">400</text>
<text transform="translate(793.3 1027.1) scale(1 1.037)" text-anchor="middle">450</text>
<text transform="translate(930.9 1027.1) scale(1 1.037)" text-anchor="middle">500</text>
<text transform="translate(1068.5 1027.1) scale(1 1.037)" text-anchor="middle">550</text>
<text transform="translate(1206.2 1027.1) scale(1 1.037)" text-anchor="middle">600</text>
<text transform="translate(1343.8 1027.1) scale(1 1.037)" text-anchor="middle">650</text>
<text transform="translate(186 970.2) scale(1 1.037)" text-anchor="end">0.0</text>
<text transform="translate(186 790.0) scale(1 1.037)" text-anchor="end">0.2</text>
<text transform="translate(186 609.8) scale(1 1.037)" text-anchor="end">0.4</text>
<text transform="translate(186 429.6) scale(1 1.037)" text-anchor="end">0.6</text>
<text transform="translate(186 249.4) scale(1 1.037)" text-anchor="end">0.8</text>
<text transform="translate(186 69.2) scale(1 1.037)" text-anchor="end">.0</text>
<path transform="translate(112.33 69.2) scale(53 -53)" d="M0.3692 0L0.3692 0.713L0.3183 0.713L0.2806 0.672L0.188 0.581L0.13 0.543L0.13 0.451L0.1825 0.477L0.2315 0.515L0.2768 0.553L0.2768 0Z"/>
</g>
<text transform="translate(57.3 959.5) rotate(-90)" font-family="Liberation Sans" font-size="61.3">Normalised Rel. Fluo. Int. (a.u.)</text>
<g fill="#000">
<polygon points="672,1137.6 678.6,1137.6 698.6,1114 697.6,1105.5"/>
</g>
<path d="M686.6 1098.6 C689.5 1093.5 692.5 1089.4 696 1089.4 C699.8 1089.4 701.2 1092.4 701 1096.5 L699.6 1106 L697.4 1124 C696.8 1131 698 1136.2 700.5 1136.6 C703.5 1136.9 706.5 1132.5 709.6 1127.4" fill="none" stroke="#000" stroke-width="3.6"/>
<text x="726" y="1137" font-family="Liberation Sans" font-size="72">/</text>
<text x="766" y="1137" font-family="Liberation Sans" font-size="72">nm</text>
<rect x="400.4" y="14.5" width="410.6" height="267" fill="#fff" stroke="#000" stroke-width="2.7"/>
<line x1="421" y1="57.0" x2="521" y2="57.0" stroke="#000" stroke-width="8" stroke-linecap="round"/>
<text x="535" y="71.6" font-family="Liberation Sans" font-size="52.5">emission </text>
<path transform="translate(756.74 71.6) scale(52.5 -52.5)" d="M0.388 0L0.388 0.722L0.2735 0.722L0.228 0.64L0.163 0.573L0.0888 0.533L0.0888 0.411L0.163 0.451L0.213 0.491L0.253 0.516L0.253 0Z"/>
<line x1="421" y1="122.3" x2="521" y2="122.3" stroke="#f00" stroke-width="8" stroke-linecap="round"/>
<text x="535" y="136.9" font-family="Liberation Sans" font-size="52.5">emission </text>
<text transform="translate(755.27 137.3) scale(0.95 1.033)" font-family="Liberation Sans" font-size="52.5" font-weight="bold">2</text>
<line x1="421" y1="187.6" x2="521" y2="187.6" stroke="#00f" stroke-width="8" stroke-linecap="round"/>
<text x="535" y="202.2" font-family="Liberation Sans" font-size="52.5">excitation </text>
<path transform="translate(771.38 202.2) scale(52.5 -52.5)" d="M0.388 0L0.388 0.722L0.2735 0.722L0.228 0.64L0.163 0.573L0.0888 0.533L0.0888 0.411L0.163 0.451L0.213 0.491L0.253 0.516L0.253 0Z"/>
<line x1="421" y1="252.9" x2="521" y2="252.9" stroke="#008080" stroke-width="8" stroke-linecap="round"/>
<text x="535" y="267.5" font-family="Liberation Sans" font-size="52.5">excitation </text>
<text transform="translate(772.17 267.9) scale(0.95 1.033)" font-family="Liberation Sans" font-size="52.5" font-weight="bold">2</text>
</svg>
</body></html>
